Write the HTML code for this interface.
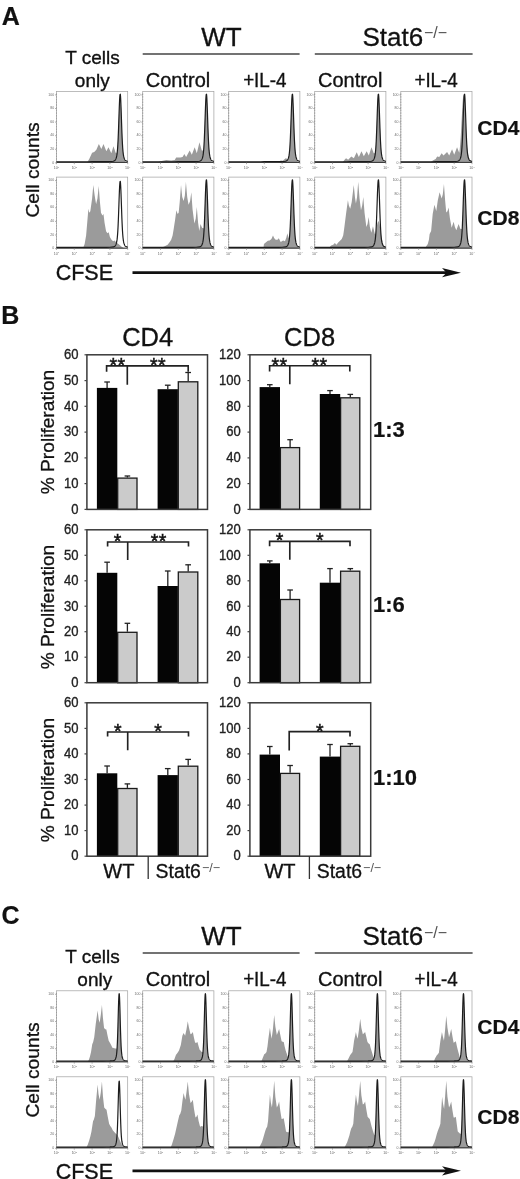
<!DOCTYPE html>
<html><head><meta charset="utf-8"><title>Figure</title>
<style>html,body{margin:0;padding:0;background:#fff}svg{display:block;filter:blur(0.35px)}</style>
</head><body>
<svg width="520" height="1179" viewBox="0 0 520 1179" font-family='"Liberation Sans", Arial, Helvetica, sans-serif'>
<rect width="520" height="1179" fill="#fff"/>
<g>
<path d="M56.50,162.60 L87.12,162.60 L89.25,159.04 L92.10,152.63 L94.24,151.92 L96.37,149.78 L98.86,144.09 L101.36,149.07 L103.49,144.09 L106.34,151.21 L108.48,147.22 L111.32,153.34 L113.46,146.22 L114.81,150.28 L115.03,150.92 L115.24,151.56 L115.45,152.20 L115.60,152.63 L115.67,152.63 L115.88,152.63 L116.09,152.63 L116.31,152.63 L116.52,152.63 L116.74,152.63 L116.95,152.63 L117.16,152.63 L117.38,150.52 L117.59,147.66 L117.73,145.42 L117.80,144.18 L118.02,140.04 L118.23,135.22 L118.44,129.81 L118.66,123.94 L118.87,117.84 L119.08,111.79 L119.16,109.84 L119.30,106.14 L119.51,101.25 L119.73,97.46 L119.94,95.07 L120.15,94.25 L120.37,95.07 L120.58,97.46 L120.79,101.25 L121.01,106.14 L121.22,111.79 L121.43,117.84 L121.65,123.94 L121.86,129.81 L122.08,135.22 L122.29,140.04 L122.50,144.18 L122.72,147.66 L122.93,150.52 L123.14,152.82 L123.36,154.65 L123.57,156.11 L123.78,157.26 L124.00,158.19 L124.21,158.94 L124.42,159.55 L124.64,160.06 L124.85,160.48 L125.07,160.84 L125.28,161.15 L125.49,161.41 L127.70,162.60 Z" fill="#9b9b9b" stroke="none"/>
<rect x="56.5" y="91.4" width="71.2" height="71.2" fill="none" stroke="#a0a0a0" stroke-width="0.7"/>
<line x1="56.5" y1="93.4" x2="56.5" y2="162.60000000000002" stroke="#999" stroke-width="0.9" stroke-dasharray="1.6 1.1"/>
<path d="M56.50,161.75 L60.06,161.74 L63.62,161.74 L67.18,161.74 L70.74,161.74 L74.30,161.74 L77.86,161.74 L81.42,161.74 L84.98,161.73 L88.54,161.73 L92.10,161.72 L95.66,161.71 L99.22,161.68 L102.78,161.65 L106.34,161.60 L109.90,161.53 L113.46,161.23 L114.81,160.46 L114.99,160.27 L115.17,160.06 L115.35,159.82 L115.52,159.53 L115.70,159.21 L115.88,158.83 L116.06,158.39 L116.24,157.88 L116.41,157.27 L116.59,156.54 L116.77,155.66 L116.95,154.59 L117.02,154.10 L117.13,153.28 L117.30,151.68 L117.48,149.73 L117.66,147.37 L117.84,144.56 L118.02,141.25 L118.19,137.44 L118.37,133.15 L118.55,128.42 L118.73,123.37 L118.91,118.14 L119.08,112.93 L119.26,107.94 L119.44,103.42 L119.62,99.60 L119.80,96.70 L119.97,94.88 L120.15,94.25 L120.33,94.22 L120.51,96.09 L120.58,97.15 L120.69,99.04 L120.86,102.91 L121.04,107.47 L121.22,112.50 L121.40,117.76 L121.58,123.02 L121.75,128.11 L121.93,132.86 L122.11,137.19 L122.29,141.03 L122.47,144.36 L122.64,147.20 L122.82,149.58 L123.00,151.55 L123.18,153.17 L123.36,154.50 L123.53,155.59 L123.71,156.48 L123.89,157.23 L124.07,157.85 L124.14,158.07 L124.25,158.38 L124.42,158.83 L124.60,159.22 L124.78,159.56 L124.96,159.85 L125.14,160.11 L125.31,160.33 L125.49,160.52 L127.70,161.51" fill="none" stroke="#1c1c1c" stroke-width="1.2" stroke-linejoin="round"/>
<line x1="56.5" y1="162.4" x2="127.7" y2="162.4" stroke="#222" stroke-width="0.9"/>
<text x="54.2" y="95.5" font-size="3.5" text-anchor="end" fill="#6a6a6a">100</text>
<line x1="55.1" y1="94.9" x2="56.5" y2="94.9" stroke="#888" stroke-width="0.7"/>
<text x="54.2" y="109.1" font-size="3.5" text-anchor="end" fill="#6a6a6a">80</text>
<line x1="55.1" y1="108.5" x2="56.5" y2="108.5" stroke="#888" stroke-width="0.7"/>
<text x="54.2" y="122.7" font-size="3.5" text-anchor="end" fill="#6a6a6a">60</text>
<line x1="55.1" y1="122.1" x2="56.5" y2="122.1" stroke="#888" stroke-width="0.7"/>
<text x="54.2" y="136.3" font-size="3.5" text-anchor="end" fill="#6a6a6a">40</text>
<line x1="55.1" y1="135.7" x2="56.5" y2="135.7" stroke="#888" stroke-width="0.7"/>
<text x="54.2" y="149.9" font-size="3.5" text-anchor="end" fill="#6a6a6a">20</text>
<line x1="55.1" y1="149.3" x2="56.5" y2="149.3" stroke="#888" stroke-width="0.7"/>
<text x="54.2" y="163.5" font-size="3.5" text-anchor="end" fill="#6a6a6a">0</text>
<line x1="55.1" y1="162.9" x2="56.5" y2="162.9" stroke="#888" stroke-width="0.7"/>
<text x="56.5" y="168.9" font-size="3.6" text-anchor="middle" fill="#666">10<tspan dy="-1.3" font-size="2.4">0</tspan></text>
<line x1="56.5" y1="162.6" x2="56.5" y2="164.2" stroke="#8a8a8a" stroke-width="0.7"/>
<text x="74.3" y="168.9" font-size="3.6" text-anchor="middle" fill="#666">10<tspan dy="-1.3" font-size="2.4">1</tspan></text>
<line x1="74.3" y1="162.6" x2="74.3" y2="164.2" stroke="#8a8a8a" stroke-width="0.7"/>
<text x="92.1" y="168.9" font-size="3.6" text-anchor="middle" fill="#666">10<tspan dy="-1.3" font-size="2.4">2</tspan></text>
<line x1="92.1" y1="162.6" x2="92.1" y2="164.2" stroke="#8a8a8a" stroke-width="0.7"/>
<text x="109.9" y="168.9" font-size="3.6" text-anchor="middle" fill="#666">10<tspan dy="-1.3" font-size="2.4">3</tspan></text>
<line x1="109.9" y1="162.6" x2="109.9" y2="164.2" stroke="#8a8a8a" stroke-width="0.7"/>
<text x="127.7" y="168.9" font-size="3.6" text-anchor="middle" fill="#666">10<tspan dy="-1.3" font-size="2.4">4</tspan></text>
<line x1="127.7" y1="162.6" x2="127.7" y2="164.2" stroke="#8a8a8a" stroke-width="0.7"/>
</g>
<g>
<path d="M142.70,162.60 L156.94,162.60 L160.50,161.18 L166.20,160.11 L171.18,160.46 L174.74,160.11 L176.16,157.62 L180.44,157.62 L182.57,156.90 L184.35,154.06 L186.13,156.90 L189.69,150.50 L191.83,154.77 L194.68,147.22 L196.81,153.34 L199.45,142.17 L201.01,147.72 L201.23,148.48 L201.44,149.23 L201.65,149.99 L201.80,150.50 L201.87,150.50 L202.08,150.50 L202.29,150.50 L202.51,150.50 L202.72,150.50 L202.94,150.50 L203.15,150.50 L203.36,150.50 L203.58,150.50 L203.79,147.66 L203.93,145.42 L204.00,144.18 L204.22,140.04 L204.43,135.22 L204.64,129.81 L204.86,123.94 L205.07,117.84 L205.28,111.79 L205.36,109.84 L205.50,106.14 L205.71,101.25 L205.93,97.46 L206.14,95.07 L206.35,94.25 L206.57,95.07 L206.78,97.46 L206.99,101.25 L207.21,106.14 L207.42,111.79 L207.63,117.84 L207.85,123.94 L208.06,129.81 L208.28,135.22 L208.49,140.04 L208.70,144.18 L208.92,147.66 L209.13,150.52 L209.34,152.82 L209.56,154.65 L209.77,156.11 L209.98,157.26 L210.20,158.19 L210.41,158.94 L210.62,159.55 L210.84,160.06 L211.05,160.48 L211.27,160.84 L211.48,161.15 L211.69,161.41 L213.90,162.60 Z" fill="#9b9b9b" stroke="none"/>
<rect x="142.7" y="91.4" width="71.2" height="71.2" fill="none" stroke="#a0a0a0" stroke-width="0.7"/>
<line x1="142.7" y1="93.4" x2="142.7" y2="162.60000000000002" stroke="#999" stroke-width="0.9" stroke-dasharray="1.6 1.1"/>
<path d="M142.70,161.75 L146.26,161.74 L149.82,161.74 L153.38,161.74 L156.94,161.74 L160.50,161.74 L164.06,161.74 L167.62,161.74 L171.18,161.73 L174.74,161.73 L178.30,161.72 L181.86,161.71 L185.42,161.68 L188.98,161.65 L192.54,161.60 L196.10,161.53 L199.66,161.23 L201.01,160.46 L201.19,160.27 L201.37,160.06 L201.55,159.82 L201.72,159.53 L201.90,159.21 L202.08,158.83 L202.26,158.39 L202.44,157.88 L202.61,157.27 L202.79,156.54 L202.97,155.66 L203.15,154.59 L203.22,154.10 L203.33,153.28 L203.50,151.68 L203.68,149.73 L203.86,147.37 L204.04,144.56 L204.22,141.25 L204.39,137.44 L204.57,133.15 L204.75,128.42 L204.93,123.37 L205.11,118.14 L205.28,112.93 L205.46,107.94 L205.64,103.42 L205.82,99.60 L206.00,96.70 L206.17,94.88 L206.35,94.25 L206.53,94.22 L206.71,96.09 L206.78,97.15 L206.89,99.04 L207.06,102.91 L207.24,107.47 L207.42,112.50 L207.60,117.76 L207.78,123.02 L207.95,128.11 L208.13,132.86 L208.31,137.19 L208.49,141.03 L208.67,144.36 L208.84,147.20 L209.02,149.58 L209.20,151.55 L209.38,153.17 L209.56,154.50 L209.73,155.59 L209.91,156.48 L210.09,157.23 L210.27,157.85 L210.34,158.07 L210.45,158.38 L210.62,158.83 L210.80,159.22 L210.98,159.56 L211.16,159.85 L211.34,160.11 L211.51,160.33 L211.69,160.52 L213.90,161.51" fill="none" stroke="#1c1c1c" stroke-width="1.2" stroke-linejoin="round"/>
<line x1="142.7" y1="162.4" x2="213.9" y2="162.4" stroke="#222" stroke-width="0.9"/>
<text x="140.4" y="95.5" font-size="3.5" text-anchor="end" fill="#6a6a6a">100</text>
<line x1="141.3" y1="94.9" x2="142.7" y2="94.9" stroke="#888" stroke-width="0.7"/>
<text x="140.4" y="109.1" font-size="3.5" text-anchor="end" fill="#6a6a6a">80</text>
<line x1="141.3" y1="108.5" x2="142.7" y2="108.5" stroke="#888" stroke-width="0.7"/>
<text x="140.4" y="122.7" font-size="3.5" text-anchor="end" fill="#6a6a6a">60</text>
<line x1="141.3" y1="122.1" x2="142.7" y2="122.1" stroke="#888" stroke-width="0.7"/>
<text x="140.4" y="136.3" font-size="3.5" text-anchor="end" fill="#6a6a6a">40</text>
<line x1="141.3" y1="135.7" x2="142.7" y2="135.7" stroke="#888" stroke-width="0.7"/>
<text x="140.4" y="149.9" font-size="3.5" text-anchor="end" fill="#6a6a6a">20</text>
<line x1="141.3" y1="149.3" x2="142.7" y2="149.3" stroke="#888" stroke-width="0.7"/>
<text x="140.4" y="163.5" font-size="3.5" text-anchor="end" fill="#6a6a6a">0</text>
<line x1="141.3" y1="162.9" x2="142.7" y2="162.9" stroke="#888" stroke-width="0.7"/>
<text x="142.7" y="168.9" font-size="3.6" text-anchor="middle" fill="#666">10<tspan dy="-1.3" font-size="2.4">0</tspan></text>
<line x1="142.7" y1="162.6" x2="142.7" y2="164.2" stroke="#8a8a8a" stroke-width="0.7"/>
<text x="160.5" y="168.9" font-size="3.6" text-anchor="middle" fill="#666">10<tspan dy="-1.3" font-size="2.4">1</tspan></text>
<line x1="160.5" y1="162.6" x2="160.5" y2="164.2" stroke="#8a8a8a" stroke-width="0.7"/>
<text x="178.3" y="168.9" font-size="3.6" text-anchor="middle" fill="#666">10<tspan dy="-1.3" font-size="2.4">2</tspan></text>
<line x1="178.3" y1="162.6" x2="178.3" y2="164.2" stroke="#8a8a8a" stroke-width="0.7"/>
<text x="196.1" y="168.9" font-size="3.6" text-anchor="middle" fill="#666">10<tspan dy="-1.3" font-size="2.4">3</tspan></text>
<line x1="196.1" y1="162.6" x2="196.1" y2="164.2" stroke="#8a8a8a" stroke-width="0.7"/>
<text x="213.9" y="168.9" font-size="3.6" text-anchor="middle" fill="#666">10<tspan dy="-1.3" font-size="2.4">4</tspan></text>
<line x1="213.9" y1="162.6" x2="213.9" y2="164.2" stroke="#8a8a8a" stroke-width="0.7"/>
</g>
<g>
<path d="M228.70,162.60 L278.54,162.60 L280.68,160.46 L282.81,160.82 L285.66,158.33 L287.01,158.78 L287.23,158.85 L287.44,158.92 L287.65,158.99 L287.80,159.04 L287.87,158.97 L288.08,158.76 L288.29,158.54 L288.51,158.19 L288.72,157.26 L288.94,156.11 L289.15,154.65 L289.36,152.82 L289.58,150.52 L289.79,147.66 L289.93,145.42 L290.00,144.18 L290.22,140.04 L290.43,135.22 L290.64,129.81 L290.86,123.94 L291.07,117.84 L291.28,111.79 L291.36,109.84 L291.50,106.14 L291.71,101.25 L291.93,97.46 L292.14,95.07 L292.35,94.25 L292.57,95.07 L292.78,97.46 L292.99,101.25 L293.21,106.14 L293.42,111.79 L293.63,117.84 L293.85,123.94 L294.06,129.81 L294.28,135.22 L294.49,140.04 L294.70,144.18 L294.92,147.66 L295.13,150.52 L295.34,152.82 L295.56,154.65 L295.77,156.11 L295.98,157.26 L296.20,158.19 L296.41,158.94 L296.62,159.55 L296.84,160.06 L297.05,160.48 L297.27,160.84 L297.48,161.15 L297.69,161.41 L299.90,162.60 Z" fill="#9b9b9b" stroke="none"/>
<rect x="228.7" y="91.4" width="71.2" height="71.2" fill="none" stroke="#a0a0a0" stroke-width="0.7"/>
<line x1="228.7" y1="93.4" x2="228.7" y2="162.60000000000002" stroke="#999" stroke-width="0.9" stroke-dasharray="1.6 1.1"/>
<path d="M228.70,161.75 L232.26,161.74 L235.82,161.74 L239.38,161.74 L242.94,161.74 L246.50,161.74 L250.06,161.74 L253.62,161.74 L257.18,161.73 L260.74,161.73 L264.30,161.72 L267.86,161.71 L271.42,161.68 L274.98,161.65 L278.54,161.60 L282.10,161.53 L285.66,161.23 L287.01,160.46 L287.19,160.27 L287.37,160.06 L287.55,159.82 L287.72,159.53 L287.90,159.21 L288.08,158.83 L288.26,158.39 L288.44,157.88 L288.61,157.27 L288.79,156.54 L288.97,155.66 L289.15,154.59 L289.22,154.10 L289.33,153.28 L289.50,151.68 L289.68,149.73 L289.86,147.37 L290.04,144.56 L290.22,141.25 L290.39,137.44 L290.57,133.15 L290.75,128.42 L290.93,123.37 L291.11,118.14 L291.28,112.93 L291.46,107.94 L291.64,103.42 L291.82,99.60 L292.00,96.70 L292.17,94.88 L292.35,94.25 L292.53,94.22 L292.71,96.09 L292.78,97.15 L292.89,99.04 L293.06,102.91 L293.24,107.47 L293.42,112.50 L293.60,117.76 L293.78,123.02 L293.95,128.11 L294.13,132.86 L294.31,137.19 L294.49,141.03 L294.67,144.36 L294.84,147.20 L295.02,149.58 L295.20,151.55 L295.38,153.17 L295.56,154.50 L295.73,155.59 L295.91,156.48 L296.09,157.23 L296.27,157.85 L296.34,158.07 L296.45,158.38 L296.62,158.83 L296.80,159.22 L296.98,159.56 L297.16,159.85 L297.34,160.11 L297.51,160.33 L297.69,160.52 L299.90,161.51" fill="none" stroke="#1c1c1c" stroke-width="1.2" stroke-linejoin="round"/>
<line x1="228.7" y1="162.4" x2="299.9" y2="162.4" stroke="#222" stroke-width="0.9"/>
<text x="226.4" y="95.5" font-size="3.5" text-anchor="end" fill="#6a6a6a">100</text>
<line x1="227.3" y1="94.9" x2="228.7" y2="94.9" stroke="#888" stroke-width="0.7"/>
<text x="226.4" y="109.1" font-size="3.5" text-anchor="end" fill="#6a6a6a">80</text>
<line x1="227.3" y1="108.5" x2="228.7" y2="108.5" stroke="#888" stroke-width="0.7"/>
<text x="226.4" y="122.7" font-size="3.5" text-anchor="end" fill="#6a6a6a">60</text>
<line x1="227.3" y1="122.1" x2="228.7" y2="122.1" stroke="#888" stroke-width="0.7"/>
<text x="226.4" y="136.3" font-size="3.5" text-anchor="end" fill="#6a6a6a">40</text>
<line x1="227.3" y1="135.7" x2="228.7" y2="135.7" stroke="#888" stroke-width="0.7"/>
<text x="226.4" y="149.9" font-size="3.5" text-anchor="end" fill="#6a6a6a">20</text>
<line x1="227.3" y1="149.3" x2="228.7" y2="149.3" stroke="#888" stroke-width="0.7"/>
<text x="226.4" y="163.5" font-size="3.5" text-anchor="end" fill="#6a6a6a">0</text>
<line x1="227.3" y1="162.9" x2="228.7" y2="162.9" stroke="#888" stroke-width="0.7"/>
<text x="228.7" y="168.9" font-size="3.6" text-anchor="middle" fill="#666">10<tspan dy="-1.3" font-size="2.4">0</tspan></text>
<line x1="228.7" y1="162.6" x2="228.7" y2="164.2" stroke="#8a8a8a" stroke-width="0.7"/>
<text x="246.5" y="168.9" font-size="3.6" text-anchor="middle" fill="#666">10<tspan dy="-1.3" font-size="2.4">1</tspan></text>
<line x1="246.5" y1="162.6" x2="246.5" y2="164.2" stroke="#8a8a8a" stroke-width="0.7"/>
<text x="264.3" y="168.9" font-size="3.6" text-anchor="middle" fill="#666">10<tspan dy="-1.3" font-size="2.4">2</tspan></text>
<line x1="264.3" y1="162.6" x2="264.3" y2="164.2" stroke="#8a8a8a" stroke-width="0.7"/>
<text x="282.1" y="168.9" font-size="3.6" text-anchor="middle" fill="#666">10<tspan dy="-1.3" font-size="2.4">3</tspan></text>
<line x1="282.1" y1="162.6" x2="282.1" y2="164.2" stroke="#8a8a8a" stroke-width="0.7"/>
<text x="299.9" y="168.9" font-size="3.6" text-anchor="middle" fill="#666">10<tspan dy="-1.3" font-size="2.4">4</tspan></text>
<line x1="299.9" y1="162.6" x2="299.9" y2="164.2" stroke="#8a8a8a" stroke-width="0.7"/>
</g>
<g>
<path d="M314.70,162.60 L342.47,162.60 L344.60,159.75 L346.03,158.33 L348.16,159.75 L351.30,156.48 L353.86,158.33 L356.71,152.28 L358.84,156.90 L361.48,151.35 L363.83,156.19 L366.68,151.21 L368.81,155.48 L371.45,147.22 L373.01,151.30 L373.23,151.86 L373.44,152.42 L373.65,152.97 L373.80,153.34 L373.87,153.32 L374.08,153.25 L374.29,153.18 L374.51,153.11 L374.72,153.04 L374.94,152.96 L375.15,152.89 L375.36,152.82 L375.58,150.52 L375.79,147.66 L375.93,145.42 L376.00,144.18 L376.22,140.04 L376.43,135.22 L376.64,129.81 L376.86,123.94 L377.07,117.84 L377.28,111.79 L377.36,109.84 L377.50,106.14 L377.71,101.25 L377.93,97.46 L378.14,95.07 L378.35,94.25 L378.57,95.07 L378.78,97.46 L378.99,101.25 L379.21,106.14 L379.42,111.79 L379.63,117.84 L379.85,123.94 L380.06,129.81 L380.28,135.22 L380.49,140.04 L380.70,144.18 L380.92,147.66 L381.13,150.52 L381.34,152.82 L381.56,154.65 L381.77,156.11 L381.98,157.26 L382.20,158.19 L382.41,158.94 L382.62,159.55 L382.84,160.06 L383.05,160.48 L383.27,160.84 L383.48,161.15 L383.69,161.41 L385.90,162.60 Z" fill="#9b9b9b" stroke="none"/>
<rect x="314.7" y="91.4" width="71.2" height="71.2" fill="none" stroke="#a0a0a0" stroke-width="0.7"/>
<line x1="314.7" y1="93.4" x2="314.7" y2="162.60000000000002" stroke="#999" stroke-width="0.9" stroke-dasharray="1.6 1.1"/>
<path d="M314.70,161.75 L318.26,161.74 L321.82,161.74 L325.38,161.74 L328.94,161.74 L332.50,161.74 L336.06,161.74 L339.62,161.74 L343.18,161.73 L346.74,161.73 L350.30,161.72 L353.86,161.71 L357.42,161.68 L360.98,161.65 L364.54,161.60 L368.10,161.53 L371.66,161.23 L373.01,160.46 L373.19,160.27 L373.37,160.06 L373.55,159.82 L373.72,159.53 L373.90,159.21 L374.08,158.83 L374.26,158.39 L374.44,157.88 L374.61,157.27 L374.79,156.54 L374.97,155.66 L375.15,154.59 L375.22,154.10 L375.33,153.28 L375.50,151.68 L375.68,149.73 L375.86,147.37 L376.04,144.56 L376.22,141.25 L376.39,137.44 L376.57,133.15 L376.75,128.42 L376.93,123.37 L377.11,118.14 L377.28,112.93 L377.46,107.94 L377.64,103.42 L377.82,99.60 L378.00,96.70 L378.17,94.88 L378.35,94.25 L378.53,94.22 L378.71,96.09 L378.78,97.15 L378.89,99.04 L379.06,102.91 L379.24,107.47 L379.42,112.50 L379.60,117.76 L379.78,123.02 L379.95,128.11 L380.13,132.86 L380.31,137.19 L380.49,141.03 L380.67,144.36 L380.84,147.20 L381.02,149.58 L381.20,151.55 L381.38,153.17 L381.56,154.50 L381.73,155.59 L381.91,156.48 L382.09,157.23 L382.27,157.85 L382.34,158.07 L382.45,158.38 L382.62,158.83 L382.80,159.22 L382.98,159.56 L383.16,159.85 L383.34,160.11 L383.51,160.33 L383.69,160.52 L385.90,161.51" fill="none" stroke="#1c1c1c" stroke-width="1.2" stroke-linejoin="round"/>
<line x1="314.7" y1="162.4" x2="385.9" y2="162.4" stroke="#222" stroke-width="0.9"/>
<text x="312.4" y="95.5" font-size="3.5" text-anchor="end" fill="#6a6a6a">100</text>
<line x1="313.3" y1="94.9" x2="314.7" y2="94.9" stroke="#888" stroke-width="0.7"/>
<text x="312.4" y="109.1" font-size="3.5" text-anchor="end" fill="#6a6a6a">80</text>
<line x1="313.3" y1="108.5" x2="314.7" y2="108.5" stroke="#888" stroke-width="0.7"/>
<text x="312.4" y="122.7" font-size="3.5" text-anchor="end" fill="#6a6a6a">60</text>
<line x1="313.3" y1="122.1" x2="314.7" y2="122.1" stroke="#888" stroke-width="0.7"/>
<text x="312.4" y="136.3" font-size="3.5" text-anchor="end" fill="#6a6a6a">40</text>
<line x1="313.3" y1="135.7" x2="314.7" y2="135.7" stroke="#888" stroke-width="0.7"/>
<text x="312.4" y="149.9" font-size="3.5" text-anchor="end" fill="#6a6a6a">20</text>
<line x1="313.3" y1="149.3" x2="314.7" y2="149.3" stroke="#888" stroke-width="0.7"/>
<text x="312.4" y="163.5" font-size="3.5" text-anchor="end" fill="#6a6a6a">0</text>
<line x1="313.3" y1="162.9" x2="314.7" y2="162.9" stroke="#888" stroke-width="0.7"/>
<text x="314.7" y="168.9" font-size="3.6" text-anchor="middle" fill="#666">10<tspan dy="-1.3" font-size="2.4">0</tspan></text>
<line x1="314.7" y1="162.6" x2="314.7" y2="164.2" stroke="#8a8a8a" stroke-width="0.7"/>
<text x="332.5" y="168.9" font-size="3.6" text-anchor="middle" fill="#666">10<tspan dy="-1.3" font-size="2.4">1</tspan></text>
<line x1="332.5" y1="162.6" x2="332.5" y2="164.2" stroke="#8a8a8a" stroke-width="0.7"/>
<text x="350.3" y="168.9" font-size="3.6" text-anchor="middle" fill="#666">10<tspan dy="-1.3" font-size="2.4">2</tspan></text>
<line x1="350.3" y1="162.6" x2="350.3" y2="164.2" stroke="#8a8a8a" stroke-width="0.7"/>
<text x="368.1" y="168.9" font-size="3.6" text-anchor="middle" fill="#666">10<tspan dy="-1.3" font-size="2.4">3</tspan></text>
<line x1="368.1" y1="162.6" x2="368.1" y2="164.2" stroke="#8a8a8a" stroke-width="0.7"/>
<text x="385.9" y="168.9" font-size="3.6" text-anchor="middle" fill="#666">10<tspan dy="-1.3" font-size="2.4">4</tspan></text>
<line x1="385.9" y1="162.6" x2="385.9" y2="164.2" stroke="#8a8a8a" stroke-width="0.7"/>
</g>
<g>
<path d="M400.80,162.60 L429.99,162.60 L432.84,160.46 L435.69,159.04 L437.11,156.48 L439.25,156.90 L441.67,153.34 L443.52,155.48 L447.08,151.92 L449.22,155.48 L452.06,149.21 L454.20,154.77 L457.05,147.22 L459.11,152.45 L459.18,152.63 L459.33,152.36 L459.54,150.75 L459.75,148.90 L459.97,146.76 L460.18,144.32 L460.39,141.57 L460.61,138.50 L460.82,135.13 L461.04,131.48 L461.25,127.60 L461.32,126.26 L461.46,123.54 L461.68,119.39 L461.89,115.24 L462.10,111.19 L462.32,107.36 L462.53,103.87 L462.74,100.82 L462.96,98.33 L463.17,96.48 L463.38,95.34 L463.60,94.96 L463.81,95.34 L464.03,96.48 L464.24,98.33 L464.45,100.82 L464.67,103.87 L464.88,107.36 L465.09,111.19 L465.31,115.24 L465.52,119.39 L465.73,123.54 L465.95,127.60 L466.16,131.48 L466.38,135.13 L466.59,138.50 L466.80,141.57 L467.02,144.32 L467.23,146.76 L467.44,148.90 L467.66,150.75 L467.87,152.36 L468.08,153.73 L468.30,154.90 L468.51,155.90 L468.72,156.75 L468.94,157.48 L469.15,158.11 L469.37,158.65 L469.58,159.12 L469.79,159.53 L472.00,162.60 Z" fill="#9b9b9b" stroke="none"/>
<rect x="400.8" y="91.4" width="71.2" height="71.2" fill="none" stroke="#a0a0a0" stroke-width="0.7"/>
<line x1="400.8" y1="93.4" x2="400.8" y2="162.60000000000002" stroke="#999" stroke-width="0.9" stroke-dasharray="1.6 1.1"/>
<path d="M400.80,161.75 L404.36,161.74 L407.92,161.74 L411.48,161.74 L415.04,161.74 L418.60,161.74 L422.16,161.74 L425.72,161.74 L429.28,161.73 L432.84,161.73 L436.40,161.72 L439.96,161.71 L443.52,161.68 L447.08,161.65 L450.64,161.60 L454.20,161.53 L457.76,161.23 L459.11,160.46 L459.29,160.27 L459.47,160.06 L459.65,159.82 L459.82,159.53 L460.00,159.21 L460.18,158.83 L460.36,158.39 L460.54,157.88 L460.71,157.27 L460.89,156.54 L461.07,155.66 L461.25,154.59 L461.32,154.10 L461.43,153.28 L461.60,151.68 L461.78,149.73 L461.96,147.37 L462.14,144.56 L462.32,141.25 L462.49,137.44 L462.67,133.15 L462.85,128.42 L463.03,123.37 L463.21,118.14 L463.38,112.93 L463.56,107.94 L463.74,103.42 L463.92,99.60 L464.10,96.70 L464.27,94.88 L464.45,94.25 L464.63,94.22 L464.81,96.09 L464.88,97.15 L464.99,99.04 L465.16,102.91 L465.34,107.47 L465.52,112.50 L465.70,117.76 L465.88,123.02 L466.05,128.11 L466.23,132.86 L466.41,137.19 L466.59,141.03 L466.77,144.36 L466.94,147.20 L467.12,149.58 L467.30,151.55 L467.48,153.17 L467.66,154.50 L467.83,155.59 L468.01,156.48 L468.19,157.23 L468.37,157.85 L468.44,158.07 L468.55,158.38 L468.72,158.83 L468.90,159.22 L469.08,159.56 L469.26,159.85 L469.44,160.11 L469.61,160.33 L469.79,160.52 L472.00,161.51" fill="none" stroke="#1c1c1c" stroke-width="1.2" stroke-linejoin="round"/>
<line x1="400.8" y1="162.4" x2="472.0" y2="162.4" stroke="#222" stroke-width="0.9"/>
<text x="398.5" y="95.5" font-size="3.5" text-anchor="end" fill="#6a6a6a">100</text>
<line x1="399.4" y1="94.9" x2="400.8" y2="94.9" stroke="#888" stroke-width="0.7"/>
<text x="398.5" y="109.1" font-size="3.5" text-anchor="end" fill="#6a6a6a">80</text>
<line x1="399.4" y1="108.5" x2="400.8" y2="108.5" stroke="#888" stroke-width="0.7"/>
<text x="398.5" y="122.7" font-size="3.5" text-anchor="end" fill="#6a6a6a">60</text>
<line x1="399.4" y1="122.1" x2="400.8" y2="122.1" stroke="#888" stroke-width="0.7"/>
<text x="398.5" y="136.3" font-size="3.5" text-anchor="end" fill="#6a6a6a">40</text>
<line x1="399.4" y1="135.7" x2="400.8" y2="135.7" stroke="#888" stroke-width="0.7"/>
<text x="398.5" y="149.9" font-size="3.5" text-anchor="end" fill="#6a6a6a">20</text>
<line x1="399.4" y1="149.3" x2="400.8" y2="149.3" stroke="#888" stroke-width="0.7"/>
<text x="398.5" y="163.5" font-size="3.5" text-anchor="end" fill="#6a6a6a">0</text>
<line x1="399.4" y1="162.9" x2="400.8" y2="162.9" stroke="#888" stroke-width="0.7"/>
<text x="400.8" y="168.9" font-size="3.6" text-anchor="middle" fill="#666">10<tspan dy="-1.3" font-size="2.4">0</tspan></text>
<line x1="400.8" y1="162.6" x2="400.8" y2="164.2" stroke="#8a8a8a" stroke-width="0.7"/>
<text x="418.6" y="168.9" font-size="3.6" text-anchor="middle" fill="#666">10<tspan dy="-1.3" font-size="2.4">1</tspan></text>
<line x1="418.6" y1="162.6" x2="418.6" y2="164.2" stroke="#8a8a8a" stroke-width="0.7"/>
<text x="436.4" y="168.9" font-size="3.6" text-anchor="middle" fill="#666">10<tspan dy="-1.3" font-size="2.4">2</tspan></text>
<line x1="436.4" y1="162.6" x2="436.4" y2="164.2" stroke="#8a8a8a" stroke-width="0.7"/>
<text x="454.2" y="168.9" font-size="3.6" text-anchor="middle" fill="#666">10<tspan dy="-1.3" font-size="2.4">3</tspan></text>
<line x1="454.2" y1="162.6" x2="454.2" y2="164.2" stroke="#8a8a8a" stroke-width="0.7"/>
<text x="472.0" y="168.9" font-size="3.6" text-anchor="middle" fill="#666">10<tspan dy="-1.3" font-size="2.4">4</tspan></text>
<line x1="472.0" y1="162.6" x2="472.0" y2="164.2" stroke="#8a8a8a" stroke-width="0.7"/>
</g>
<g>
<path d="M56.50,248.30 L83.06,248.30 L84.62,244.03 L86.12,235.48 L87.47,219.82 L88.40,208.64 L89.25,212.70 L90.32,211.28 L92.10,198.46 L93.31,184.93 L94.59,194.90 L96.09,204.16 L97.44,198.46 L98.72,186.00 L99.93,202.02 L101.00,212.70 L102.42,215.55 L103.49,214.12 L104.56,222.67 L106.06,231.21 L107.41,233.35 L108.69,232.14 L109.90,236.91 L111.32,239.40 L113.10,241.18 L114.53,240.47 L116.31,242.60 L118.44,244.03 L122.00,246.88 L124.14,248.30 L127.70,248.30 Z" fill="#9b9b9b" stroke="none"/>
<rect x="56.5" y="177.1" width="71.2" height="71.2" fill="none" stroke="#a0a0a0" stroke-width="0.7"/>
<line x1="56.5" y1="179.1" x2="56.5" y2="248.3" stroke="#999" stroke-width="0.9" stroke-dasharray="1.6 1.1"/>
<path d="M56.50,247.45 L60.06,247.44 L63.62,247.44 L67.18,247.44 L70.74,247.44 L74.30,247.44 L77.86,247.44 L81.42,247.44 L84.98,247.43 L88.54,247.43 L92.10,247.42 L95.66,247.41 L99.22,247.38 L102.78,247.35 L106.34,247.30 L109.90,247.23 L113.46,246.93 L114.81,246.18 L114.99,246.00 L115.17,245.79 L115.35,245.55 L115.52,245.27 L115.70,244.95 L115.88,244.58 L116.06,244.15 L116.24,243.65 L116.41,243.05 L116.59,242.34 L116.77,241.48 L116.95,240.43 L117.02,239.95 L117.13,239.15 L117.30,237.58 L117.48,235.67 L117.66,233.37 L117.84,230.61 L118.02,227.38 L118.19,223.65 L118.37,219.44 L118.55,214.82 L118.73,209.88 L118.91,204.76 L119.08,199.65 L119.26,194.77 L119.44,190.35 L119.62,186.61 L119.80,183.77 L119.97,181.99 L120.15,181.37 L120.33,181.33 L120.51,183.16 L120.58,184.20 L120.69,186.05 L120.86,189.84 L121.04,194.30 L121.22,199.23 L121.40,204.37 L121.58,209.53 L121.75,214.50 L121.93,219.16 L122.11,223.39 L122.29,227.15 L122.47,230.41 L122.64,233.19 L122.82,235.52 L123.00,237.45 L123.18,239.04 L123.36,240.34 L123.53,241.41 L123.71,242.29 L123.89,243.01 L124.07,243.63 L124.14,243.84 L124.25,244.14 L124.42,244.59 L124.60,244.97 L124.78,245.30 L124.96,245.58 L125.14,245.83 L125.31,246.05 L125.49,246.24 L127.70,247.21" fill="none" stroke="#1c1c1c" stroke-width="1.2" stroke-linejoin="round"/>
<line x1="56.5" y1="248.1" x2="127.7" y2="248.1" stroke="#222" stroke-width="0.9"/>
<text x="54.2" y="181.2" font-size="3.5" text-anchor="end" fill="#6a6a6a">100</text>
<line x1="55.1" y1="180.6" x2="56.5" y2="180.6" stroke="#888" stroke-width="0.7"/>
<text x="54.2" y="194.8" font-size="3.5" text-anchor="end" fill="#6a6a6a">80</text>
<line x1="55.1" y1="194.2" x2="56.5" y2="194.2" stroke="#888" stroke-width="0.7"/>
<text x="54.2" y="208.4" font-size="3.5" text-anchor="end" fill="#6a6a6a">60</text>
<line x1="55.1" y1="207.8" x2="56.5" y2="207.8" stroke="#888" stroke-width="0.7"/>
<text x="54.2" y="222.0" font-size="3.5" text-anchor="end" fill="#6a6a6a">40</text>
<line x1="55.1" y1="221.4" x2="56.5" y2="221.4" stroke="#888" stroke-width="0.7"/>
<text x="54.2" y="235.6" font-size="3.5" text-anchor="end" fill="#6a6a6a">20</text>
<line x1="55.1" y1="235.0" x2="56.5" y2="235.0" stroke="#888" stroke-width="0.7"/>
<text x="54.2" y="249.2" font-size="3.5" text-anchor="end" fill="#6a6a6a">0</text>
<line x1="55.1" y1="248.6" x2="56.5" y2="248.6" stroke="#888" stroke-width="0.7"/>
<text x="56.5" y="254.6" font-size="3.6" text-anchor="middle" fill="#666">10<tspan dy="-1.3" font-size="2.4">0</tspan></text>
<line x1="56.5" y1="248.3" x2="56.5" y2="249.9" stroke="#8a8a8a" stroke-width="0.7"/>
<text x="74.3" y="254.6" font-size="3.6" text-anchor="middle" fill="#666">10<tspan dy="-1.3" font-size="2.4">1</tspan></text>
<line x1="74.3" y1="248.3" x2="74.3" y2="249.9" stroke="#8a8a8a" stroke-width="0.7"/>
<text x="92.1" y="254.6" font-size="3.6" text-anchor="middle" fill="#666">10<tspan dy="-1.3" font-size="2.4">2</tspan></text>
<line x1="92.1" y1="248.3" x2="92.1" y2="249.9" stroke="#8a8a8a" stroke-width="0.7"/>
<text x="109.9" y="254.6" font-size="3.6" text-anchor="middle" fill="#666">10<tspan dy="-1.3" font-size="2.4">3</tspan></text>
<line x1="109.9" y1="248.3" x2="109.9" y2="249.9" stroke="#8a8a8a" stroke-width="0.7"/>
<text x="127.7" y="254.6" font-size="3.6" text-anchor="middle" fill="#666">10<tspan dy="-1.3" font-size="2.4">4</tspan></text>
<line x1="127.7" y1="248.3" x2="127.7" y2="249.9" stroke="#8a8a8a" stroke-width="0.7"/>
</g>
<g>
<path d="M142.70,248.30 L158.36,248.30 L161.92,247.59 L164.77,246.16 L167.62,244.74 L169.76,241.89 L171.18,239.76 L172.60,235.48 L173.60,229.43 L175.10,219.82 L176.38,210.21 L177.59,214.12 L178.66,212.70 L179.72,202.02 L181.01,185.07 L182.22,197.04 L183.64,200.95 L184.85,195.61 L185.92,182.08 L187.20,197.04 L188.55,204.87 L190.05,201.31 L191.33,192.19 L192.54,209.14 L194.39,223.38 L195.74,218.40 L196.81,207.00 L198.09,222.67 L199.30,230.93 L200.51,224.09 L201.01,225.29 L201.23,225.81 L201.44,226.32 L201.65,226.84 L201.87,227.35 L202.08,227.87 L202.29,227.92 L202.51,227.98 L202.72,228.04 L202.94,228.10 L203.15,228.15 L203.36,228.21 L203.58,228.27 L203.79,228.33 L203.93,228.36 L204.00,229.36 L204.22,225.74 L204.43,220.92 L204.64,215.51 L204.86,209.64 L205.07,203.54 L205.28,197.49 L205.36,195.54 L205.50,191.84 L205.71,186.95 L205.93,183.16 L206.14,180.77 L206.35,179.95 L206.57,180.77 L206.78,183.16 L206.99,186.95 L207.21,191.84 L207.42,197.49 L207.63,203.54 L207.85,209.64 L208.06,215.51 L208.28,220.92 L208.49,225.74 L208.70,229.88 L208.92,233.36 L209.13,236.22 L209.34,238.52 L209.56,240.35 L209.77,241.81 L209.98,242.96 L210.20,243.89 L210.41,244.64 L210.62,245.25 L210.84,245.76 L211.05,246.18 L211.27,246.54 L211.48,246.85 L211.69,247.11 L213.90,248.30 Z" fill="#9b9b9b" stroke="none"/>
<rect x="142.7" y="177.1" width="71.2" height="71.2" fill="none" stroke="#a0a0a0" stroke-width="0.7"/>
<line x1="142.7" y1="179.1" x2="142.7" y2="248.3" stroke="#999" stroke-width="0.9" stroke-dasharray="1.6 1.1"/>
<path d="M142.70,247.45 L146.26,247.44 L149.82,247.44 L153.38,247.44 L156.94,247.44 L160.50,247.44 L164.06,247.44 L167.62,247.44 L171.18,247.43 L174.74,247.43 L178.30,247.42 L181.86,247.41 L185.42,247.38 L188.98,247.35 L192.54,247.30 L196.10,247.23 L199.66,246.93 L201.01,246.16 L201.19,245.97 L201.37,245.76 L201.55,245.52 L201.72,245.23 L201.90,244.91 L202.08,244.53 L202.26,244.09 L202.44,243.58 L202.61,242.97 L202.79,242.24 L202.97,241.36 L203.15,240.29 L203.22,239.80 L203.33,238.98 L203.50,237.38 L203.68,235.43 L203.86,233.07 L204.04,230.26 L204.22,226.95 L204.39,223.14 L204.57,218.85 L204.75,214.12 L204.93,209.07 L205.11,203.84 L205.28,198.63 L205.46,193.64 L205.64,189.12 L205.82,185.30 L206.00,182.40 L206.17,180.58 L206.35,179.95 L206.53,179.92 L206.71,181.79 L206.78,182.85 L206.89,184.74 L207.06,188.61 L207.24,193.17 L207.42,198.20 L207.60,203.46 L207.78,208.72 L207.95,213.81 L208.13,218.56 L208.31,222.89 L208.49,226.73 L208.67,230.06 L208.84,232.90 L209.02,235.28 L209.20,237.25 L209.38,238.87 L209.56,240.20 L209.73,241.29 L209.91,242.18 L210.09,242.93 L210.27,243.55 L210.34,243.77 L210.45,244.08 L210.62,244.53 L210.80,244.92 L210.98,245.26 L211.16,245.55 L211.34,245.81 L211.51,246.03 L211.69,246.22 L213.90,247.21" fill="none" stroke="#1c1c1c" stroke-width="1.2" stroke-linejoin="round"/>
<line x1="142.7" y1="248.1" x2="213.9" y2="248.1" stroke="#222" stroke-width="0.9"/>
<text x="140.4" y="181.2" font-size="3.5" text-anchor="end" fill="#6a6a6a">100</text>
<line x1="141.3" y1="180.6" x2="142.7" y2="180.6" stroke="#888" stroke-width="0.7"/>
<text x="140.4" y="194.8" font-size="3.5" text-anchor="end" fill="#6a6a6a">80</text>
<line x1="141.3" y1="194.2" x2="142.7" y2="194.2" stroke="#888" stroke-width="0.7"/>
<text x="140.4" y="208.4" font-size="3.5" text-anchor="end" fill="#6a6a6a">60</text>
<line x1="141.3" y1="207.8" x2="142.7" y2="207.8" stroke="#888" stroke-width="0.7"/>
<text x="140.4" y="222.0" font-size="3.5" text-anchor="end" fill="#6a6a6a">40</text>
<line x1="141.3" y1="221.4" x2="142.7" y2="221.4" stroke="#888" stroke-width="0.7"/>
<text x="140.4" y="235.6" font-size="3.5" text-anchor="end" fill="#6a6a6a">20</text>
<line x1="141.3" y1="235.0" x2="142.7" y2="235.0" stroke="#888" stroke-width="0.7"/>
<text x="140.4" y="249.2" font-size="3.5" text-anchor="end" fill="#6a6a6a">0</text>
<line x1="141.3" y1="248.6" x2="142.7" y2="248.6" stroke="#888" stroke-width="0.7"/>
<text x="142.7" y="254.6" font-size="3.6" text-anchor="middle" fill="#666">10<tspan dy="-1.3" font-size="2.4">0</tspan></text>
<line x1="142.7" y1="248.3" x2="142.7" y2="249.9" stroke="#8a8a8a" stroke-width="0.7"/>
<text x="160.5" y="254.6" font-size="3.6" text-anchor="middle" fill="#666">10<tspan dy="-1.3" font-size="2.4">1</tspan></text>
<line x1="160.5" y1="248.3" x2="160.5" y2="249.9" stroke="#8a8a8a" stroke-width="0.7"/>
<text x="178.3" y="254.6" font-size="3.6" text-anchor="middle" fill="#666">10<tspan dy="-1.3" font-size="2.4">2</tspan></text>
<line x1="178.3" y1="248.3" x2="178.3" y2="249.9" stroke="#8a8a8a" stroke-width="0.7"/>
<text x="196.1" y="254.6" font-size="3.6" text-anchor="middle" fill="#666">10<tspan dy="-1.3" font-size="2.4">3</tspan></text>
<line x1="196.1" y1="248.3" x2="196.1" y2="249.9" stroke="#8a8a8a" stroke-width="0.7"/>
<text x="213.9" y="254.6" font-size="3.6" text-anchor="middle" fill="#666">10<tspan dy="-1.3" font-size="2.4">4</tspan></text>
<line x1="213.9" y1="248.3" x2="213.9" y2="249.9" stroke="#8a8a8a" stroke-width="0.7"/>
</g>
<g>
<path d="M228.70,248.30 L263.45,248.30 L263.94,244.03 L265.72,242.60 L267.86,240.82 L269.64,240.47 L271.42,239.04 L272.99,235.48 L274.27,238.33 L275.69,239.76 L277.47,239.76 L278.82,238.33 L280.68,241.89 L283.17,240.47 L284.95,241.18 L286.37,237.62 L287.01,234.66 L287.23,233.68 L287.30,233.35 L287.44,233.80 L287.65,234.48 L287.87,235.16 L288.08,235.84 L288.29,236.52 L288.51,237.20 L288.72,237.88 L288.86,238.33 L288.94,238.33 L289.15,238.33 L289.36,238.33 L289.58,236.22 L289.79,233.36 L289.93,231.12 L290.00,229.88 L290.22,225.74 L290.43,220.92 L290.64,215.51 L290.86,209.64 L291.07,203.54 L291.28,197.49 L291.36,195.54 L291.50,191.84 L291.71,186.95 L291.93,183.16 L292.14,180.77 L292.35,179.95 L292.57,180.77 L292.78,183.16 L292.99,186.95 L293.21,191.84 L293.42,197.49 L293.63,203.54 L293.85,209.64 L294.06,215.51 L294.28,220.92 L294.49,225.74 L294.70,229.88 L294.92,233.36 L295.13,236.22 L295.34,238.52 L295.56,240.35 L295.77,241.81 L295.98,242.96 L296.20,243.89 L296.41,244.64 L296.62,245.25 L296.84,245.76 L297.05,246.18 L297.27,246.54 L297.48,246.85 L297.69,247.11 L299.90,248.30 Z" fill="#9b9b9b" stroke="none"/>
<rect x="228.7" y="177.1" width="71.2" height="71.2" fill="none" stroke="#a0a0a0" stroke-width="0.7"/>
<line x1="228.7" y1="179.1" x2="228.7" y2="248.3" stroke="#999" stroke-width="0.9" stroke-dasharray="1.6 1.1"/>
<path d="M228.70,247.45 L232.26,247.44 L235.82,247.44 L239.38,247.44 L242.94,247.44 L246.50,247.44 L250.06,247.44 L253.62,247.44 L257.18,247.43 L260.74,247.43 L264.30,247.42 L267.86,247.41 L271.42,247.38 L274.98,247.35 L278.54,247.30 L282.10,247.23 L285.66,246.93 L287.01,246.16 L287.19,245.97 L287.37,245.76 L287.55,245.52 L287.72,245.23 L287.90,244.91 L288.08,244.53 L288.26,244.09 L288.44,243.58 L288.61,242.97 L288.79,242.24 L288.97,241.36 L289.15,240.29 L289.22,239.80 L289.33,238.98 L289.50,237.38 L289.68,235.43 L289.86,233.07 L290.04,230.26 L290.22,226.95 L290.39,223.14 L290.57,218.85 L290.75,214.12 L290.93,209.07 L291.11,203.84 L291.28,198.63 L291.46,193.64 L291.64,189.12 L291.82,185.30 L292.00,182.40 L292.17,180.58 L292.35,179.95 L292.53,179.92 L292.71,181.79 L292.78,182.85 L292.89,184.74 L293.06,188.61 L293.24,193.17 L293.42,198.20 L293.60,203.46 L293.78,208.72 L293.95,213.81 L294.13,218.56 L294.31,222.89 L294.49,226.73 L294.67,230.06 L294.84,232.90 L295.02,235.28 L295.20,237.25 L295.38,238.87 L295.56,240.20 L295.73,241.29 L295.91,242.18 L296.09,242.93 L296.27,243.55 L296.34,243.77 L296.45,244.08 L296.62,244.53 L296.80,244.92 L296.98,245.26 L297.16,245.55 L297.34,245.81 L297.51,246.03 L297.69,246.22 L299.90,247.21" fill="none" stroke="#1c1c1c" stroke-width="1.2" stroke-linejoin="round"/>
<line x1="228.7" y1="248.1" x2="299.9" y2="248.1" stroke="#222" stroke-width="0.9"/>
<text x="226.4" y="181.2" font-size="3.5" text-anchor="end" fill="#6a6a6a">100</text>
<line x1="227.3" y1="180.6" x2="228.7" y2="180.6" stroke="#888" stroke-width="0.7"/>
<text x="226.4" y="194.8" font-size="3.5" text-anchor="end" fill="#6a6a6a">80</text>
<line x1="227.3" y1="194.2" x2="228.7" y2="194.2" stroke="#888" stroke-width="0.7"/>
<text x="226.4" y="208.4" font-size="3.5" text-anchor="end" fill="#6a6a6a">60</text>
<line x1="227.3" y1="207.8" x2="228.7" y2="207.8" stroke="#888" stroke-width="0.7"/>
<text x="226.4" y="222.0" font-size="3.5" text-anchor="end" fill="#6a6a6a">40</text>
<line x1="227.3" y1="221.4" x2="228.7" y2="221.4" stroke="#888" stroke-width="0.7"/>
<text x="226.4" y="235.6" font-size="3.5" text-anchor="end" fill="#6a6a6a">20</text>
<line x1="227.3" y1="235.0" x2="228.7" y2="235.0" stroke="#888" stroke-width="0.7"/>
<text x="226.4" y="249.2" font-size="3.5" text-anchor="end" fill="#6a6a6a">0</text>
<line x1="227.3" y1="248.6" x2="228.7" y2="248.6" stroke="#888" stroke-width="0.7"/>
<text x="228.7" y="254.6" font-size="3.6" text-anchor="middle" fill="#666">10<tspan dy="-1.3" font-size="2.4">0</tspan></text>
<line x1="228.7" y1="248.3" x2="228.7" y2="249.9" stroke="#8a8a8a" stroke-width="0.7"/>
<text x="246.5" y="254.6" font-size="3.6" text-anchor="middle" fill="#666">10<tspan dy="-1.3" font-size="2.4">1</tspan></text>
<line x1="246.5" y1="248.3" x2="246.5" y2="249.9" stroke="#8a8a8a" stroke-width="0.7"/>
<text x="264.3" y="254.6" font-size="3.6" text-anchor="middle" fill="#666">10<tspan dy="-1.3" font-size="2.4">2</tspan></text>
<line x1="264.3" y1="248.3" x2="264.3" y2="249.9" stroke="#8a8a8a" stroke-width="0.7"/>
<text x="282.1" y="254.6" font-size="3.6" text-anchor="middle" fill="#666">10<tspan dy="-1.3" font-size="2.4">3</tspan></text>
<line x1="282.1" y1="248.3" x2="282.1" y2="249.9" stroke="#8a8a8a" stroke-width="0.7"/>
<text x="299.9" y="254.6" font-size="3.6" text-anchor="middle" fill="#666">10<tspan dy="-1.3" font-size="2.4">4</tspan></text>
<line x1="299.9" y1="248.3" x2="299.9" y2="249.9" stroke="#8a8a8a" stroke-width="0.7"/>
</g>
<g>
<path d="M314.70,248.30 L328.73,248.30 L331.08,245.45 L333.21,244.74 L334.85,242.96 L336.42,244.74 L338.20,242.60 L339.48,241.18 L341.76,239.04 L343.18,235.48 L344.07,229.43 L346.03,214.12 L347.91,200.17 L348.88,205.58 L350.23,208.64 L351.72,202.02 L353.76,185.07 L354.93,197.04 L355.92,203.44 L357.06,197.04 L358.20,181.73 L359.56,198.46 L360.98,210.21 L362.19,205.58 L363.29,197.04 L364.54,212.70 L366.37,227.08 L367.53,224.09 L368.67,217.11 L369.88,226.94 L371.30,232.64 L372.98,226.30 L373.01,226.42 L373.23,227.32 L373.44,228.22 L373.65,229.12 L373.87,230.01 L374.08,230.91 L374.29,231.81 L374.51,232.71 L374.72,233.61 L374.83,234.06 L374.94,234.13 L375.15,234.27 L375.36,234.40 L375.58,234.54 L375.79,233.33 L375.93,232.38 L376.00,231.90 L376.22,230.46 L376.43,229.03 L376.64,227.63 L376.86,226.30 L377.00,225.47 L377.07,225.07 L377.28,223.97 L377.50,223.03 L377.71,222.26 L377.93,221.70 L378.07,221.45 L378.14,221.36 L378.35,221.24 L378.57,221.36 L378.78,221.70 L378.99,222.26 L379.21,223.03 L379.42,223.97 L379.63,225.07 L379.85,226.30 L380.06,227.63 L380.28,229.03 L380.49,230.46 L380.70,231.90 L380.92,233.33 L381.13,234.72 L381.34,236.05 L381.56,237.31 L381.77,238.49 L381.98,239.57 L382.20,240.56 L382.41,241.46 L382.62,242.26 L382.84,242.98 L383.05,243.61 L383.27,244.16 L383.48,244.65 L383.69,245.07 L385.90,248.30 Z" fill="#9b9b9b" stroke="none"/>
<rect x="314.7" y="177.1" width="71.2" height="71.2" fill="none" stroke="#a0a0a0" stroke-width="0.7"/>
<line x1="314.7" y1="179.1" x2="314.7" y2="248.3" stroke="#999" stroke-width="0.9" stroke-dasharray="1.6 1.1"/>
<path d="M314.70,247.45 L318.26,247.44 L321.82,247.44 L325.38,247.44 L328.94,247.44 L332.50,247.44 L336.06,247.44 L339.62,247.44 L343.18,247.43 L346.74,247.43 L350.30,247.42 L353.86,247.41 L357.42,247.38 L360.98,247.35 L364.54,247.30 L368.10,247.23 L371.66,246.93 L373.01,246.16 L373.19,245.97 L373.37,245.76 L373.55,245.52 L373.72,245.23 L373.90,244.91 L374.08,244.53 L374.26,244.09 L374.44,243.58 L374.61,242.97 L374.79,242.24 L374.97,241.36 L375.15,240.29 L375.22,239.80 L375.33,238.98 L375.50,237.38 L375.68,235.43 L375.86,233.07 L376.04,230.26 L376.22,226.95 L376.39,223.14 L376.57,218.85 L376.75,214.12 L376.93,209.07 L377.11,203.84 L377.28,198.63 L377.46,193.64 L377.64,189.12 L377.82,185.30 L378.00,182.40 L378.17,180.58 L378.35,179.95 L378.53,179.92 L378.71,181.79 L378.78,182.85 L378.89,184.74 L379.06,188.61 L379.24,193.17 L379.42,198.20 L379.60,203.46 L379.78,208.72 L379.95,213.81 L380.13,218.56 L380.31,222.89 L380.49,226.73 L380.67,230.06 L380.84,232.90 L381.02,235.28 L381.20,237.25 L381.38,238.87 L381.56,240.20 L381.73,241.29 L381.91,242.18 L382.09,242.93 L382.27,243.55 L382.34,243.77 L382.45,244.08 L382.62,244.53 L382.80,244.92 L382.98,245.26 L383.16,245.55 L383.34,245.81 L383.51,246.03 L383.69,246.22 L385.90,247.21" fill="none" stroke="#1c1c1c" stroke-width="1.2" stroke-linejoin="round"/>
<line x1="314.7" y1="248.1" x2="385.9" y2="248.1" stroke="#222" stroke-width="0.9"/>
<text x="312.4" y="181.2" font-size="3.5" text-anchor="end" fill="#6a6a6a">100</text>
<line x1="313.3" y1="180.6" x2="314.7" y2="180.6" stroke="#888" stroke-width="0.7"/>
<text x="312.4" y="194.8" font-size="3.5" text-anchor="end" fill="#6a6a6a">80</text>
<line x1="313.3" y1="194.2" x2="314.7" y2="194.2" stroke="#888" stroke-width="0.7"/>
<text x="312.4" y="208.4" font-size="3.5" text-anchor="end" fill="#6a6a6a">60</text>
<line x1="313.3" y1="207.8" x2="314.7" y2="207.8" stroke="#888" stroke-width="0.7"/>
<text x="312.4" y="222.0" font-size="3.5" text-anchor="end" fill="#6a6a6a">40</text>
<line x1="313.3" y1="221.4" x2="314.7" y2="221.4" stroke="#888" stroke-width="0.7"/>
<text x="312.4" y="235.6" font-size="3.5" text-anchor="end" fill="#6a6a6a">20</text>
<line x1="313.3" y1="235.0" x2="314.7" y2="235.0" stroke="#888" stroke-width="0.7"/>
<text x="312.4" y="249.2" font-size="3.5" text-anchor="end" fill="#6a6a6a">0</text>
<line x1="313.3" y1="248.6" x2="314.7" y2="248.6" stroke="#888" stroke-width="0.7"/>
<text x="314.7" y="254.6" font-size="3.6" text-anchor="middle" fill="#666">10<tspan dy="-1.3" font-size="2.4">0</tspan></text>
<line x1="314.7" y1="248.3" x2="314.7" y2="249.9" stroke="#8a8a8a" stroke-width="0.7"/>
<text x="332.5" y="254.6" font-size="3.6" text-anchor="middle" fill="#666">10<tspan dy="-1.3" font-size="2.4">1</tspan></text>
<line x1="332.5" y1="248.3" x2="332.5" y2="249.9" stroke="#8a8a8a" stroke-width="0.7"/>
<text x="350.3" y="254.6" font-size="3.6" text-anchor="middle" fill="#666">10<tspan dy="-1.3" font-size="2.4">2</tspan></text>
<line x1="350.3" y1="248.3" x2="350.3" y2="249.9" stroke="#8a8a8a" stroke-width="0.7"/>
<text x="368.1" y="254.6" font-size="3.6" text-anchor="middle" fill="#666">10<tspan dy="-1.3" font-size="2.4">3</tspan></text>
<line x1="368.1" y1="248.3" x2="368.1" y2="249.9" stroke="#8a8a8a" stroke-width="0.7"/>
<text x="385.9" y="254.6" font-size="3.6" text-anchor="middle" fill="#666">10<tspan dy="-1.3" font-size="2.4">4</tspan></text>
<line x1="385.9" y1="248.3" x2="385.9" y2="249.9" stroke="#8a8a8a" stroke-width="0.7"/>
</g>
<g>
<path d="M400.80,248.30 L423.94,248.30 L425.72,246.88 L427.78,244.03 L428.92,239.76 L429.64,234.06 L431.13,230.93 L432.70,214.12 L434.41,204.87 L436.26,210.92 L437.82,200.17 L439.60,192.19 L441.67,198.60 L442.81,194.19 L443.95,184.01 L445.09,199.88 L446.26,212.49 L447.44,211.28 L448.58,207.57 L449.93,218.40 L451.64,227.87 L453.63,221.67 L454.91,226.94 L456.34,230.14 L458.61,224.09 L459.11,225.43 L459.33,226.01 L459.54,226.58 L459.75,227.16 L459.97,227.73 L460.18,228.31 L460.39,228.88 L460.47,229.08 L460.61,229.08 L460.82,229.08 L461.04,229.08 L461.25,229.08 L461.46,229.08 L461.68,229.08 L461.89,229.08 L462.03,229.08 L462.10,230.04 L462.32,227.15 L462.53,222.63 L462.74,217.56 L462.96,212.06 L463.17,206.34 L463.38,200.66 L463.46,198.84 L463.60,195.37 L463.81,190.78 L464.03,187.23 L464.24,184.99 L464.45,184.22 L464.67,184.99 L464.88,187.23 L465.09,190.78 L465.31,195.37 L465.52,200.66 L465.73,206.34 L465.95,212.06 L466.16,217.56 L466.38,222.63 L466.59,227.15 L466.80,231.04 L467.02,234.30 L467.23,236.97 L467.44,239.13 L467.66,240.85 L467.87,242.21 L468.08,243.30 L468.30,244.16 L468.51,244.87 L468.72,245.44 L468.94,245.92 L469.15,246.32 L469.37,246.65 L469.58,246.94 L469.79,247.18 L472.00,248.30 Z" fill="#9b9b9b" stroke="none"/>
<rect x="400.8" y="177.1" width="71.2" height="71.2" fill="none" stroke="#a0a0a0" stroke-width="0.7"/>
<line x1="400.8" y1="179.1" x2="400.8" y2="248.3" stroke="#999" stroke-width="0.9" stroke-dasharray="1.6 1.1"/>
<path d="M400.80,247.45 L404.36,247.44 L407.92,247.44 L411.48,247.44 L415.04,247.44 L418.60,247.44 L422.16,247.44 L425.72,247.44 L429.28,247.43 L432.84,247.43 L436.40,247.42 L439.96,247.41 L443.52,247.38 L447.08,247.35 L450.64,247.30 L454.20,247.23 L457.76,246.93 L459.11,246.16 L459.29,245.97 L459.47,245.76 L459.65,245.52 L459.82,245.23 L460.00,244.91 L460.18,244.53 L460.36,244.09 L460.54,243.58 L460.71,242.97 L460.89,242.24 L461.07,241.36 L461.25,240.29 L461.32,239.80 L461.43,238.98 L461.60,237.38 L461.78,235.43 L461.96,233.07 L462.14,230.26 L462.32,226.95 L462.49,223.14 L462.67,218.85 L462.85,214.12 L463.03,209.07 L463.21,203.84 L463.38,198.63 L463.56,193.64 L463.74,189.12 L463.92,185.30 L464.10,182.40 L464.27,180.58 L464.45,179.95 L464.63,179.92 L464.81,181.79 L464.88,182.85 L464.99,184.74 L465.16,188.61 L465.34,193.17 L465.52,198.20 L465.70,203.46 L465.88,208.72 L466.05,213.81 L466.23,218.56 L466.41,222.89 L466.59,226.73 L466.77,230.06 L466.94,232.90 L467.12,235.28 L467.30,237.25 L467.48,238.87 L467.66,240.20 L467.83,241.29 L468.01,242.18 L468.19,242.93 L468.37,243.55 L468.44,243.77 L468.55,244.08 L468.72,244.53 L468.90,244.92 L469.08,245.26 L469.26,245.55 L469.44,245.81 L469.61,246.03 L469.79,246.22 L472.00,247.21" fill="none" stroke="#1c1c1c" stroke-width="1.2" stroke-linejoin="round"/>
<line x1="400.8" y1="248.1" x2="472.0" y2="248.1" stroke="#222" stroke-width="0.9"/>
<text x="398.5" y="181.2" font-size="3.5" text-anchor="end" fill="#6a6a6a">100</text>
<line x1="399.4" y1="180.6" x2="400.8" y2="180.6" stroke="#888" stroke-width="0.7"/>
<text x="398.5" y="194.8" font-size="3.5" text-anchor="end" fill="#6a6a6a">80</text>
<line x1="399.4" y1="194.2" x2="400.8" y2="194.2" stroke="#888" stroke-width="0.7"/>
<text x="398.5" y="208.4" font-size="3.5" text-anchor="end" fill="#6a6a6a">60</text>
<line x1="399.4" y1="207.8" x2="400.8" y2="207.8" stroke="#888" stroke-width="0.7"/>
<text x="398.5" y="222.0" font-size="3.5" text-anchor="end" fill="#6a6a6a">40</text>
<line x1="399.4" y1="221.4" x2="400.8" y2="221.4" stroke="#888" stroke-width="0.7"/>
<text x="398.5" y="235.6" font-size="3.5" text-anchor="end" fill="#6a6a6a">20</text>
<line x1="399.4" y1="235.0" x2="400.8" y2="235.0" stroke="#888" stroke-width="0.7"/>
<text x="398.5" y="249.2" font-size="3.5" text-anchor="end" fill="#6a6a6a">0</text>
<line x1="399.4" y1="248.6" x2="400.8" y2="248.6" stroke="#888" stroke-width="0.7"/>
<text x="400.8" y="254.6" font-size="3.6" text-anchor="middle" fill="#666">10<tspan dy="-1.3" font-size="2.4">0</tspan></text>
<line x1="400.8" y1="248.3" x2="400.8" y2="249.9" stroke="#8a8a8a" stroke-width="0.7"/>
<text x="418.6" y="254.6" font-size="3.6" text-anchor="middle" fill="#666">10<tspan dy="-1.3" font-size="2.4">1</tspan></text>
<line x1="418.6" y1="248.3" x2="418.6" y2="249.9" stroke="#8a8a8a" stroke-width="0.7"/>
<text x="436.4" y="254.6" font-size="3.6" text-anchor="middle" fill="#666">10<tspan dy="-1.3" font-size="2.4">2</tspan></text>
<line x1="436.4" y1="248.3" x2="436.4" y2="249.9" stroke="#8a8a8a" stroke-width="0.7"/>
<text x="454.2" y="254.6" font-size="3.6" text-anchor="middle" fill="#666">10<tspan dy="-1.3" font-size="2.4">3</tspan></text>
<line x1="454.2" y1="248.3" x2="454.2" y2="249.9" stroke="#8a8a8a" stroke-width="0.7"/>
<text x="472.0" y="254.6" font-size="3.6" text-anchor="middle" fill="#666">10<tspan dy="-1.3" font-size="2.4">4</tspan></text>
<line x1="472.0" y1="248.3" x2="472.0" y2="249.9" stroke="#8a8a8a" stroke-width="0.7"/>
</g>
<g>
<path d="M56.50,1062.00 L87.65,1062.00 L88.90,1059.86 L89.96,1056.59 L91.03,1052.03 L92.24,1044.20 L93.17,1042.06 L94.24,1037.36 L95.80,1023.55 L97.63,1010.38 L98.65,1019.28 L99.62,1022.84 L100.79,1015.01 L101.93,1005.04 L102.92,1017.86 L104.06,1028.11 L105.27,1029.25 L106.34,1029.60 L107.41,1034.94 L108.69,1040.64 L109.90,1042.78 L111.11,1045.05 L112.39,1047.76 L113.74,1048.12 L113.82,1048.13 L114.03,1048.18 L114.24,1048.23 L114.46,1048.29 L114.67,1048.34 L114.88,1048.39 L115.10,1048.44 L115.24,1048.47 L115.31,1048.47 L115.52,1048.47 L115.74,1048.47 L115.95,1048.47 L116.17,1048.47 L116.38,1048.47 L116.59,1048.47 L116.66,1048.47 L116.81,1049.55 L117.02,1050.33 L117.23,1046.79 L117.45,1042.31 L117.66,1036.91 L117.87,1030.70 L118.09,1023.98 L118.30,1017.20 L118.44,1012.95 L118.52,1010.98 L118.73,1005.93 L118.94,1002.63 L119.16,1001.48 L119.37,1002.63 L119.58,1005.93 L119.80,1010.98 L120.01,1017.20 L120.22,1023.98 L120.44,1030.70 L120.65,1036.91 L120.86,1042.31 L121.08,1046.79 L121.29,1050.33 L121.51,1053.06 L121.72,1055.12 L121.93,1056.66 L122.15,1057.81 L122.36,1058.69 L122.57,1059.37 L122.79,1059.91 L123.00,1060.34 L123.21,1060.70 L123.43,1060.98 L123.64,1061.21 L123.86,1061.40 L124.07,1061.55 L124.28,1061.66 L124.50,1061.75 L127.70,1062.00 Z" fill="#9b9b9b" stroke="none"/>
<rect x="56.5" y="990.8" width="71.2" height="71.2" fill="none" stroke="#a0a0a0" stroke-width="0.7"/>
<line x1="56.5" y1="992.8" x2="56.5" y2="1062.0" stroke="#999" stroke-width="0.9" stroke-dasharray="1.6 1.1"/>
<path d="M56.50,1061.15 L60.06,1061.14 L63.62,1061.14 L67.18,1061.14 L70.74,1061.14 L74.30,1061.14 L77.86,1061.14 L81.42,1061.14 L84.98,1061.13 L88.54,1061.13 L92.10,1061.12 L95.66,1061.10 L99.22,1061.08 L102.78,1061.04 L106.34,1060.99 L109.90,1060.90 L113.46,1060.68 L113.82,1060.58 L113.99,1060.51 L114.17,1060.43 L114.35,1060.32 L114.53,1060.19 L114.71,1060.04 L114.88,1059.84 L115.06,1059.62 L115.24,1059.34 L115.42,1059.01 L115.60,1058.62 L115.77,1058.15 L115.95,1057.58 L116.13,1056.88 L116.31,1056.01 L116.49,1054.91 L116.66,1053.49 L116.84,1051.67 L117.02,1049.33 L117.20,1046.35 L117.38,1042.64 L117.55,1038.14 L117.73,1032.86 L117.91,1026.89 L118.09,1020.44 L118.27,1013.84 L118.44,1007.50 L118.62,1001.89 L118.80,997.47 L118.98,994.63 L119.16,993.65 L119.33,993.98 L119.51,996.86 L119.69,1001.33 L119.87,1006.99 L120.05,1013.37 L120.22,1020.01 L120.40,1026.50 L120.58,1032.50 L120.76,1037.82 L120.94,1042.36 L121.11,1046.10 L121.29,1049.10 L121.47,1051.47 L121.65,1053.32 L121.83,1054.76 L122.00,1055.88 L122.18,1056.78 L122.36,1057.49 L122.54,1058.08 L122.72,1058.57 L122.89,1058.98 L123.07,1059.32 L123.25,1059.61 L123.43,1059.85 L123.61,1060.05 L123.78,1060.22 L123.96,1060.36 L124.14,1060.47 L124.32,1060.57 L124.50,1060.64 L127.70,1061.02" fill="none" stroke="#1c1c1c" stroke-width="1.2" stroke-linejoin="round"/>
<line x1="56.5" y1="1061.8" x2="127.7" y2="1061.8" stroke="#222" stroke-width="0.9"/>
<text x="54.2" y="994.9" font-size="3.5" text-anchor="end" fill="#6a6a6a">100</text>
<line x1="55.1" y1="994.3" x2="56.5" y2="994.3" stroke="#888" stroke-width="0.7"/>
<text x="54.2" y="1008.5" font-size="3.5" text-anchor="end" fill="#6a6a6a">80</text>
<line x1="55.1" y1="1007.9" x2="56.5" y2="1007.9" stroke="#888" stroke-width="0.7"/>
<text x="54.2" y="1022.1" font-size="3.5" text-anchor="end" fill="#6a6a6a">60</text>
<line x1="55.1" y1="1021.5" x2="56.5" y2="1021.5" stroke="#888" stroke-width="0.7"/>
<text x="54.2" y="1035.7" font-size="3.5" text-anchor="end" fill="#6a6a6a">40</text>
<line x1="55.1" y1="1035.1" x2="56.5" y2="1035.1" stroke="#888" stroke-width="0.7"/>
<text x="54.2" y="1049.3" font-size="3.5" text-anchor="end" fill="#6a6a6a">20</text>
<line x1="55.1" y1="1048.7" x2="56.5" y2="1048.7" stroke="#888" stroke-width="0.7"/>
<text x="54.2" y="1062.9" font-size="3.5" text-anchor="end" fill="#6a6a6a">0</text>
<line x1="55.1" y1="1062.3" x2="56.5" y2="1062.3" stroke="#888" stroke-width="0.7"/>
<text x="56.5" y="1068.3" font-size="3.6" text-anchor="middle" fill="#666">10<tspan dy="-1.3" font-size="2.4">0</tspan></text>
<line x1="56.5" y1="1062.0" x2="56.5" y2="1063.6" stroke="#8a8a8a" stroke-width="0.7"/>
<text x="74.3" y="1068.3" font-size="3.6" text-anchor="middle" fill="#666">10<tspan dy="-1.3" font-size="2.4">1</tspan></text>
<line x1="74.3" y1="1062.0" x2="74.3" y2="1063.6" stroke="#8a8a8a" stroke-width="0.7"/>
<text x="92.1" y="1068.3" font-size="3.6" text-anchor="middle" fill="#666">10<tspan dy="-1.3" font-size="2.4">2</tspan></text>
<line x1="92.1" y1="1062.0" x2="92.1" y2="1063.6" stroke="#8a8a8a" stroke-width="0.7"/>
<text x="109.9" y="1068.3" font-size="3.6" text-anchor="middle" fill="#666">10<tspan dy="-1.3" font-size="2.4">3</tspan></text>
<line x1="109.9" y1="1062.0" x2="109.9" y2="1063.6" stroke="#8a8a8a" stroke-width="0.7"/>
<text x="127.7" y="1068.3" font-size="3.6" text-anchor="middle" fill="#666">10<tspan dy="-1.3" font-size="2.4">4</tspan></text>
<line x1="127.7" y1="1062.0" x2="127.7" y2="1063.6" stroke="#8a8a8a" stroke-width="0.7"/>
</g>
<g>
<path d="M142.70,1062.00 L172.82,1062.00 L174.38,1059.15 L175.91,1055.09 L177.59,1052.74 L179.01,1050.61 L180.83,1045.05 L182.36,1035.80 L183.60,1033.02 L185.14,1035.80 L186.49,1029.25 L187.77,1021.13 L188.98,1027.82 L190.55,1034.23 L191.83,1033.52 L192.82,1031.95 L193.96,1037.79 L195.14,1042.78 L196.46,1042.78 L197.45,1042.06 L198.59,1046.34 L199.66,1049.68 L200.02,1050.09 L200.23,1050.33 L200.44,1050.57 L200.66,1050.82 L200.87,1051.06 L201.08,1051.30 L201.30,1051.55 L201.51,1051.79 L201.72,1052.03 L201.94,1052.03 L202.15,1052.03 L202.37,1052.03 L202.58,1052.03 L202.79,1052.03 L203.01,1052.03 L203.22,1051.02 L203.43,1047.68 L203.65,1043.47 L203.86,1038.39 L204.07,1032.54 L204.29,1026.21 L204.50,1019.84 L204.64,1015.84 L204.72,1013.98 L204.93,1009.22 L205.14,1006.12 L205.36,1005.04 L205.57,1006.12 L205.78,1009.22 L206.00,1013.98 L206.21,1019.84 L206.42,1026.21 L206.64,1032.54 L206.85,1038.39 L207.06,1043.47 L207.28,1047.68 L207.49,1051.02 L207.71,1053.59 L207.92,1055.53 L208.13,1056.97 L208.35,1058.06 L208.56,1058.88 L208.77,1059.53 L208.99,1060.03 L209.20,1060.44 L209.41,1060.77 L209.63,1061.04 L209.84,1061.26 L210.06,1061.43 L210.27,1061.57 L210.48,1061.68 L210.70,1061.76 L213.90,1062.00 Z" fill="#9b9b9b" stroke="none"/>
<rect x="142.7" y="990.8" width="71.2" height="71.2" fill="none" stroke="#a0a0a0" stroke-width="0.7"/>
<line x1="142.7" y1="992.8" x2="142.7" y2="1062.0" stroke="#999" stroke-width="0.9" stroke-dasharray="1.6 1.1"/>
<path d="M142.70,1061.15 L146.26,1061.14 L149.82,1061.14 L153.38,1061.14 L156.94,1061.14 L160.50,1061.14 L164.06,1061.14 L167.62,1061.14 L171.18,1061.13 L174.74,1061.13 L178.30,1061.12 L181.86,1061.10 L185.42,1061.08 L188.98,1061.04 L192.54,1060.99 L196.10,1060.90 L199.66,1060.68 L200.02,1060.58 L200.19,1060.51 L200.37,1060.43 L200.55,1060.32 L200.73,1060.19 L200.91,1060.04 L201.08,1059.84 L201.26,1059.62 L201.44,1059.34 L201.62,1059.01 L201.80,1058.62 L201.97,1058.15 L202.15,1057.58 L202.33,1056.88 L202.51,1056.01 L202.69,1054.91 L202.86,1053.49 L203.04,1051.67 L203.22,1049.33 L203.40,1046.35 L203.58,1042.64 L203.75,1038.14 L203.93,1032.86 L204.11,1026.89 L204.29,1020.44 L204.47,1013.84 L204.64,1007.50 L204.82,1001.89 L205.00,997.47 L205.18,994.63 L205.36,993.65 L205.53,993.98 L205.71,996.86 L205.89,1001.33 L206.07,1006.99 L206.25,1013.37 L206.42,1020.01 L206.60,1026.50 L206.78,1032.50 L206.96,1037.82 L207.14,1042.36 L207.31,1046.10 L207.49,1049.10 L207.67,1051.47 L207.85,1053.32 L208.03,1054.76 L208.20,1055.88 L208.38,1056.78 L208.56,1057.49 L208.74,1058.08 L208.92,1058.57 L209.09,1058.98 L209.27,1059.32 L209.45,1059.61 L209.63,1059.85 L209.81,1060.05 L209.98,1060.22 L210.16,1060.36 L210.34,1060.47 L210.52,1060.57 L210.70,1060.64 L213.90,1061.02" fill="none" stroke="#1c1c1c" stroke-width="1.2" stroke-linejoin="round"/>
<line x1="142.7" y1="1061.8" x2="213.9" y2="1061.8" stroke="#222" stroke-width="0.9"/>
<text x="140.4" y="994.9" font-size="3.5" text-anchor="end" fill="#6a6a6a">100</text>
<line x1="141.3" y1="994.3" x2="142.7" y2="994.3" stroke="#888" stroke-width="0.7"/>
<text x="140.4" y="1008.5" font-size="3.5" text-anchor="end" fill="#6a6a6a">80</text>
<line x1="141.3" y1="1007.9" x2="142.7" y2="1007.9" stroke="#888" stroke-width="0.7"/>
<text x="140.4" y="1022.1" font-size="3.5" text-anchor="end" fill="#6a6a6a">60</text>
<line x1="141.3" y1="1021.5" x2="142.7" y2="1021.5" stroke="#888" stroke-width="0.7"/>
<text x="140.4" y="1035.7" font-size="3.5" text-anchor="end" fill="#6a6a6a">40</text>
<line x1="141.3" y1="1035.1" x2="142.7" y2="1035.1" stroke="#888" stroke-width="0.7"/>
<text x="140.4" y="1049.3" font-size="3.5" text-anchor="end" fill="#6a6a6a">20</text>
<line x1="141.3" y1="1048.7" x2="142.7" y2="1048.7" stroke="#888" stroke-width="0.7"/>
<text x="140.4" y="1062.9" font-size="3.5" text-anchor="end" fill="#6a6a6a">0</text>
<line x1="141.3" y1="1062.3" x2="142.7" y2="1062.3" stroke="#888" stroke-width="0.7"/>
<text x="142.7" y="1068.3" font-size="3.6" text-anchor="middle" fill="#666">10<tspan dy="-1.3" font-size="2.4">0</tspan></text>
<line x1="142.7" y1="1062.0" x2="142.7" y2="1063.6" stroke="#8a8a8a" stroke-width="0.7"/>
<text x="160.5" y="1068.3" font-size="3.6" text-anchor="middle" fill="#666">10<tspan dy="-1.3" font-size="2.4">1</tspan></text>
<line x1="160.5" y1="1062.0" x2="160.5" y2="1063.6" stroke="#8a8a8a" stroke-width="0.7"/>
<text x="178.3" y="1068.3" font-size="3.6" text-anchor="middle" fill="#666">10<tspan dy="-1.3" font-size="2.4">2</tspan></text>
<line x1="178.3" y1="1062.0" x2="178.3" y2="1063.6" stroke="#8a8a8a" stroke-width="0.7"/>
<text x="196.1" y="1068.3" font-size="3.6" text-anchor="middle" fill="#666">10<tspan dy="-1.3" font-size="2.4">3</tspan></text>
<line x1="196.1" y1="1062.0" x2="196.1" y2="1063.6" stroke="#8a8a8a" stroke-width="0.7"/>
<text x="213.9" y="1068.3" font-size="3.6" text-anchor="middle" fill="#666">10<tspan dy="-1.3" font-size="2.4">4</tspan></text>
<line x1="213.9" y1="1062.0" x2="213.9" y2="1063.6" stroke="#8a8a8a" stroke-width="0.7"/>
</g>
<g>
<path d="M228.70,1062.00 L261.17,1062.00 L262.52,1058.44 L264.23,1054.31 L265.37,1053.46 L266.51,1052.03 L267.50,1046.34 L268.36,1038.86 L269.92,1027.82 L270.71,1033.52 L271.61,1038.86 L272.84,1029.96 L274.20,1015.01 L275.34,1026.40 L276.83,1035.02 L277.97,1032.10 L279.11,1028.89 L280.32,1034.94 L281.60,1041.21 L282.67,1041.71 L283.74,1042.06 L284.59,1046.34 L285.66,1050.61 L286.02,1051.59 L286.23,1052.18 L286.44,1052.77 L286.66,1053.36 L286.87,1053.95 L287.08,1054.54 L287.30,1055.13 L287.51,1055.71 L287.72,1056.30 L287.94,1056.51 L288.15,1056.71 L288.37,1056.91 L288.58,1056.66 L288.79,1055.12 L289.01,1053.06 L289.22,1050.33 L289.43,1046.79 L289.65,1042.31 L289.86,1036.91 L290.07,1030.70 L290.29,1023.98 L290.50,1017.20 L290.64,1012.95 L290.72,1010.98 L290.93,1005.93 L291.14,1002.63 L291.36,1001.48 L291.57,1002.63 L291.78,1005.93 L292.00,1010.98 L292.21,1017.20 L292.42,1023.98 L292.64,1030.70 L292.85,1036.91 L293.06,1042.31 L293.28,1046.79 L293.49,1050.33 L293.71,1053.06 L293.92,1055.12 L294.13,1056.66 L294.35,1057.81 L294.56,1058.69 L294.77,1059.37 L294.99,1059.91 L295.20,1060.34 L295.41,1060.70 L295.63,1060.98 L295.84,1061.21 L296.06,1061.40 L296.27,1061.55 L296.48,1061.66 L296.70,1061.75 L299.90,1062.00 Z" fill="#9b9b9b" stroke="none"/>
<rect x="228.7" y="990.8" width="71.2" height="71.2" fill="none" stroke="#a0a0a0" stroke-width="0.7"/>
<line x1="228.7" y1="992.8" x2="228.7" y2="1062.0" stroke="#999" stroke-width="0.9" stroke-dasharray="1.6 1.1"/>
<path d="M228.70,1061.15 L232.26,1061.14 L235.82,1061.14 L239.38,1061.14 L242.94,1061.14 L246.50,1061.14 L250.06,1061.14 L253.62,1061.14 L257.18,1061.13 L260.74,1061.13 L264.30,1061.12 L267.86,1061.10 L271.42,1061.08 L274.98,1061.04 L278.54,1060.99 L282.10,1060.90 L285.66,1060.68 L286.02,1060.58 L286.19,1060.51 L286.37,1060.43 L286.55,1060.32 L286.73,1060.19 L286.91,1060.04 L287.08,1059.84 L287.26,1059.62 L287.44,1059.34 L287.62,1059.01 L287.80,1058.62 L287.97,1058.15 L288.15,1057.58 L288.33,1056.88 L288.51,1056.01 L288.69,1054.91 L288.86,1053.49 L289.04,1051.67 L289.22,1049.33 L289.40,1046.35 L289.58,1042.64 L289.75,1038.14 L289.93,1032.86 L290.11,1026.89 L290.29,1020.44 L290.47,1013.84 L290.64,1007.50 L290.82,1001.89 L291.00,997.47 L291.18,994.63 L291.36,993.65 L291.53,993.98 L291.71,996.86 L291.89,1001.33 L292.07,1006.99 L292.25,1013.37 L292.42,1020.01 L292.60,1026.50 L292.78,1032.50 L292.96,1037.82 L293.14,1042.36 L293.31,1046.10 L293.49,1049.10 L293.67,1051.47 L293.85,1053.32 L294.03,1054.76 L294.20,1055.88 L294.38,1056.78 L294.56,1057.49 L294.74,1058.08 L294.92,1058.57 L295.09,1058.98 L295.27,1059.32 L295.45,1059.61 L295.63,1059.85 L295.81,1060.05 L295.98,1060.22 L296.16,1060.36 L296.34,1060.47 L296.52,1060.57 L296.70,1060.64 L299.90,1061.02" fill="none" stroke="#1c1c1c" stroke-width="1.2" stroke-linejoin="round"/>
<line x1="228.7" y1="1061.8" x2="299.9" y2="1061.8" stroke="#222" stroke-width="0.9"/>
<text x="226.4" y="994.9" font-size="3.5" text-anchor="end" fill="#6a6a6a">100</text>
<line x1="227.3" y1="994.3" x2="228.7" y2="994.3" stroke="#888" stroke-width="0.7"/>
<text x="226.4" y="1008.5" font-size="3.5" text-anchor="end" fill="#6a6a6a">80</text>
<line x1="227.3" y1="1007.9" x2="228.7" y2="1007.9" stroke="#888" stroke-width="0.7"/>
<text x="226.4" y="1022.1" font-size="3.5" text-anchor="end" fill="#6a6a6a">60</text>
<line x1="227.3" y1="1021.5" x2="228.7" y2="1021.5" stroke="#888" stroke-width="0.7"/>
<text x="226.4" y="1035.7" font-size="3.5" text-anchor="end" fill="#6a6a6a">40</text>
<line x1="227.3" y1="1035.1" x2="228.7" y2="1035.1" stroke="#888" stroke-width="0.7"/>
<text x="226.4" y="1049.3" font-size="3.5" text-anchor="end" fill="#6a6a6a">20</text>
<line x1="227.3" y1="1048.7" x2="228.7" y2="1048.7" stroke="#888" stroke-width="0.7"/>
<text x="226.4" y="1062.9" font-size="3.5" text-anchor="end" fill="#6a6a6a">0</text>
<line x1="227.3" y1="1062.3" x2="228.7" y2="1062.3" stroke="#888" stroke-width="0.7"/>
<text x="228.7" y="1068.3" font-size="3.6" text-anchor="middle" fill="#666">10<tspan dy="-1.3" font-size="2.4">0</tspan></text>
<line x1="228.7" y1="1062.0" x2="228.7" y2="1063.6" stroke="#8a8a8a" stroke-width="0.7"/>
<text x="246.5" y="1068.3" font-size="3.6" text-anchor="middle" fill="#666">10<tspan dy="-1.3" font-size="2.4">1</tspan></text>
<line x1="246.5" y1="1062.0" x2="246.5" y2="1063.6" stroke="#8a8a8a" stroke-width="0.7"/>
<text x="264.3" y="1068.3" font-size="3.6" text-anchor="middle" fill="#666">10<tspan dy="-1.3" font-size="2.4">2</tspan></text>
<line x1="264.3" y1="1062.0" x2="264.3" y2="1063.6" stroke="#8a8a8a" stroke-width="0.7"/>
<text x="282.1" y="1068.3" font-size="3.6" text-anchor="middle" fill="#666">10<tspan dy="-1.3" font-size="2.4">3</tspan></text>
<line x1="282.1" y1="1062.0" x2="282.1" y2="1063.6" stroke="#8a8a8a" stroke-width="0.7"/>
<text x="299.9" y="1068.3" font-size="3.6" text-anchor="middle" fill="#666">10<tspan dy="-1.3" font-size="2.4">4</tspan></text>
<line x1="299.9" y1="1062.0" x2="299.9" y2="1063.6" stroke="#8a8a8a" stroke-width="0.7"/>
</g>
<g>
<path d="M314.70,1062.00 L346.67,1062.00 L348.52,1058.44 L350.23,1054.88 L351.37,1053.46 L352.51,1052.03 L353.36,1046.34 L354.07,1040.64 L355.92,1031.95 L356.71,1035.66 L357.61,1038.86 L358.84,1030.67 L360.20,1018.85 L361.34,1027.82 L362.83,1034.23 L363.97,1033.16 L365.11,1031.95 L366.32,1037.08 L367.46,1042.06 L368.67,1043.49 L369.74,1044.27 L370.59,1047.76 L371.66,1051.32 L372.02,1052.47 L372.23,1053.16 L372.44,1053.85 L372.66,1054.54 L372.87,1055.24 L373.08,1055.93 L373.30,1056.62 L373.51,1057.31 L373.72,1058.00 L373.94,1058.69 L374.08,1058.93 L374.15,1058.69 L374.37,1057.81 L374.58,1056.66 L374.79,1055.12 L375.01,1053.06 L375.22,1050.33 L375.43,1046.79 L375.65,1042.31 L375.86,1036.91 L376.07,1030.70 L376.29,1023.98 L376.50,1017.20 L376.64,1012.95 L376.72,1010.98 L376.93,1005.93 L377.14,1002.63 L377.36,1001.48 L377.57,1002.63 L377.78,1005.93 L378.00,1010.98 L378.21,1017.20 L378.42,1023.98 L378.64,1030.70 L378.85,1036.91 L379.06,1042.31 L379.28,1046.79 L379.49,1050.33 L379.71,1053.06 L379.92,1055.12 L380.13,1056.66 L380.35,1057.81 L380.56,1058.69 L380.77,1059.37 L380.99,1059.91 L381.20,1060.34 L381.41,1060.70 L381.63,1060.98 L381.84,1061.21 L382.06,1061.40 L382.27,1061.55 L382.48,1061.66 L382.70,1061.75 L385.90,1062.00 Z" fill="#9b9b9b" stroke="none"/>
<rect x="314.7" y="990.8" width="71.2" height="71.2" fill="none" stroke="#a0a0a0" stroke-width="0.7"/>
<line x1="314.7" y1="992.8" x2="314.7" y2="1062.0" stroke="#999" stroke-width="0.9" stroke-dasharray="1.6 1.1"/>
<path d="M314.70,1061.15 L318.26,1061.14 L321.82,1061.14 L325.38,1061.14 L328.94,1061.14 L332.50,1061.14 L336.06,1061.14 L339.62,1061.14 L343.18,1061.13 L346.74,1061.13 L350.30,1061.12 L353.86,1061.10 L357.42,1061.08 L360.98,1061.04 L364.54,1060.99 L368.10,1060.90 L371.66,1060.68 L372.02,1060.58 L372.19,1060.51 L372.37,1060.43 L372.55,1060.32 L372.73,1060.19 L372.91,1060.04 L373.08,1059.84 L373.26,1059.62 L373.44,1059.34 L373.62,1059.01 L373.80,1058.62 L373.97,1058.15 L374.15,1057.58 L374.33,1056.88 L374.51,1056.01 L374.69,1054.91 L374.86,1053.49 L375.04,1051.67 L375.22,1049.33 L375.40,1046.35 L375.58,1042.64 L375.75,1038.14 L375.93,1032.86 L376.11,1026.89 L376.29,1020.44 L376.47,1013.84 L376.64,1007.50 L376.82,1001.89 L377.00,997.47 L377.18,994.63 L377.36,993.65 L377.53,993.98 L377.71,996.86 L377.89,1001.33 L378.07,1006.99 L378.25,1013.37 L378.42,1020.01 L378.60,1026.50 L378.78,1032.50 L378.96,1037.82 L379.14,1042.36 L379.31,1046.10 L379.49,1049.10 L379.67,1051.47 L379.85,1053.32 L380.03,1054.76 L380.20,1055.88 L380.38,1056.78 L380.56,1057.49 L380.74,1058.08 L380.92,1058.57 L381.09,1058.98 L381.27,1059.32 L381.45,1059.61 L381.63,1059.85 L381.81,1060.05 L381.98,1060.22 L382.16,1060.36 L382.34,1060.47 L382.52,1060.57 L382.70,1060.64 L385.90,1061.02" fill="none" stroke="#1c1c1c" stroke-width="1.2" stroke-linejoin="round"/>
<line x1="314.7" y1="1061.8" x2="385.9" y2="1061.8" stroke="#222" stroke-width="0.9"/>
<text x="312.4" y="994.9" font-size="3.5" text-anchor="end" fill="#6a6a6a">100</text>
<line x1="313.3" y1="994.3" x2="314.7" y2="994.3" stroke="#888" stroke-width="0.7"/>
<text x="312.4" y="1008.5" font-size="3.5" text-anchor="end" fill="#6a6a6a">80</text>
<line x1="313.3" y1="1007.9" x2="314.7" y2="1007.9" stroke="#888" stroke-width="0.7"/>
<text x="312.4" y="1022.1" font-size="3.5" text-anchor="end" fill="#6a6a6a">60</text>
<line x1="313.3" y1="1021.5" x2="314.7" y2="1021.5" stroke="#888" stroke-width="0.7"/>
<text x="312.4" y="1035.7" font-size="3.5" text-anchor="end" fill="#6a6a6a">40</text>
<line x1="313.3" y1="1035.1" x2="314.7" y2="1035.1" stroke="#888" stroke-width="0.7"/>
<text x="312.4" y="1049.3" font-size="3.5" text-anchor="end" fill="#6a6a6a">20</text>
<line x1="313.3" y1="1048.7" x2="314.7" y2="1048.7" stroke="#888" stroke-width="0.7"/>
<text x="312.4" y="1062.9" font-size="3.5" text-anchor="end" fill="#6a6a6a">0</text>
<line x1="313.3" y1="1062.3" x2="314.7" y2="1062.3" stroke="#888" stroke-width="0.7"/>
<text x="314.7" y="1068.3" font-size="3.6" text-anchor="middle" fill="#666">10<tspan dy="-1.3" font-size="2.4">0</tspan></text>
<line x1="314.7" y1="1062.0" x2="314.7" y2="1063.6" stroke="#8a8a8a" stroke-width="0.7"/>
<text x="332.5" y="1068.3" font-size="3.6" text-anchor="middle" fill="#666">10<tspan dy="-1.3" font-size="2.4">1</tspan></text>
<line x1="332.5" y1="1062.0" x2="332.5" y2="1063.6" stroke="#8a8a8a" stroke-width="0.7"/>
<text x="350.3" y="1068.3" font-size="3.6" text-anchor="middle" fill="#666">10<tspan dy="-1.3" font-size="2.4">2</tspan></text>
<line x1="350.3" y1="1062.0" x2="350.3" y2="1063.6" stroke="#8a8a8a" stroke-width="0.7"/>
<text x="368.1" y="1068.3" font-size="3.6" text-anchor="middle" fill="#666">10<tspan dy="-1.3" font-size="2.4">3</tspan></text>
<line x1="368.1" y1="1062.0" x2="368.1" y2="1063.6" stroke="#8a8a8a" stroke-width="0.7"/>
<text x="385.9" y="1068.3" font-size="3.6" text-anchor="middle" fill="#666">10<tspan dy="-1.3" font-size="2.4">4</tspan></text>
<line x1="385.9" y1="1062.0" x2="385.9" y2="1063.6" stroke="#8a8a8a" stroke-width="0.7"/>
</g>
<g>
<path d="M400.80,1062.00 L433.62,1062.00 L434.98,1058.44 L436.68,1055.59 L437.82,1054.17 L438.89,1052.74 L439.68,1046.34 L440.39,1040.64 L441.95,1031.95 L442.81,1036.37 L443.95,1040.64 L445.09,1029.96 L446.26,1015.72 L447.44,1027.82 L449.04,1037.36 L450.07,1033.52 L451.21,1028.89 L452.42,1036.37 L453.63,1042.78 L454.77,1042.06 L455.84,1041.21 L457.05,1047.05 L458.12,1051.32 L458.33,1052.08 L458.54,1052.85 L458.76,1053.61 L458.97,1054.37 L459.18,1055.13 L459.40,1055.90 L459.61,1056.66 L459.82,1057.42 L460.04,1058.19 L460.11,1058.44 L460.25,1058.52 L460.47,1057.81 L460.68,1056.66 L460.89,1055.12 L461.11,1053.06 L461.32,1050.33 L461.53,1046.79 L461.75,1042.31 L461.96,1036.91 L462.17,1030.70 L462.39,1023.98 L462.60,1017.20 L462.74,1012.95 L462.82,1010.98 L463.03,1005.93 L463.24,1002.63 L463.46,1001.48 L463.67,1002.63 L463.88,1005.93 L464.10,1010.98 L464.31,1017.20 L464.52,1023.98 L464.74,1030.70 L464.95,1036.91 L465.16,1042.31 L465.38,1046.79 L465.59,1050.33 L465.81,1053.06 L466.02,1055.12 L466.23,1056.66 L466.45,1057.81 L466.66,1058.69 L466.87,1059.37 L467.09,1059.91 L467.30,1060.34 L467.51,1060.70 L467.73,1060.98 L467.94,1061.21 L468.16,1061.40 L468.37,1061.55 L468.58,1061.66 L468.80,1061.75 L472.00,1062.00 Z" fill="#9b9b9b" stroke="none"/>
<rect x="400.8" y="990.8" width="71.2" height="71.2" fill="none" stroke="#a0a0a0" stroke-width="0.7"/>
<line x1="400.8" y1="992.8" x2="400.8" y2="1062.0" stroke="#999" stroke-width="0.9" stroke-dasharray="1.6 1.1"/>
<path d="M400.80,1061.15 L404.36,1061.14 L407.92,1061.14 L411.48,1061.14 L415.04,1061.14 L418.60,1061.14 L422.16,1061.14 L425.72,1061.14 L429.28,1061.13 L432.84,1061.13 L436.40,1061.12 L439.96,1061.10 L443.52,1061.08 L447.08,1061.04 L450.64,1060.99 L454.20,1060.90 L457.76,1060.68 L458.12,1060.58 L458.29,1060.51 L458.47,1060.43 L458.65,1060.32 L458.83,1060.19 L459.01,1060.04 L459.18,1059.84 L459.36,1059.62 L459.54,1059.34 L459.72,1059.01 L459.90,1058.62 L460.07,1058.15 L460.25,1057.58 L460.43,1056.88 L460.61,1056.01 L460.79,1054.91 L460.96,1053.49 L461.14,1051.67 L461.32,1049.33 L461.50,1046.35 L461.68,1042.64 L461.85,1038.14 L462.03,1032.86 L462.21,1026.89 L462.39,1020.44 L462.57,1013.84 L462.74,1007.50 L462.92,1001.89 L463.10,997.47 L463.28,994.63 L463.46,993.65 L463.63,993.98 L463.81,996.86 L463.99,1001.33 L464.17,1006.99 L464.35,1013.37 L464.52,1020.01 L464.70,1026.50 L464.88,1032.50 L465.06,1037.82 L465.24,1042.36 L465.41,1046.10 L465.59,1049.10 L465.77,1051.47 L465.95,1053.32 L466.13,1054.76 L466.30,1055.88 L466.48,1056.78 L466.66,1057.49 L466.84,1058.08 L467.02,1058.57 L467.19,1058.98 L467.37,1059.32 L467.55,1059.61 L467.73,1059.85 L467.91,1060.05 L468.08,1060.22 L468.26,1060.36 L468.44,1060.47 L468.62,1060.57 L468.80,1060.64 L472.00,1061.02" fill="none" stroke="#1c1c1c" stroke-width="1.2" stroke-linejoin="round"/>
<line x1="400.8" y1="1061.8" x2="472.0" y2="1061.8" stroke="#222" stroke-width="0.9"/>
<text x="398.5" y="994.9" font-size="3.5" text-anchor="end" fill="#6a6a6a">100</text>
<line x1="399.4" y1="994.3" x2="400.8" y2="994.3" stroke="#888" stroke-width="0.7"/>
<text x="398.5" y="1008.5" font-size="3.5" text-anchor="end" fill="#6a6a6a">80</text>
<line x1="399.4" y1="1007.9" x2="400.8" y2="1007.9" stroke="#888" stroke-width="0.7"/>
<text x="398.5" y="1022.1" font-size="3.5" text-anchor="end" fill="#6a6a6a">60</text>
<line x1="399.4" y1="1021.5" x2="400.8" y2="1021.5" stroke="#888" stroke-width="0.7"/>
<text x="398.5" y="1035.7" font-size="3.5" text-anchor="end" fill="#6a6a6a">40</text>
<line x1="399.4" y1="1035.1" x2="400.8" y2="1035.1" stroke="#888" stroke-width="0.7"/>
<text x="398.5" y="1049.3" font-size="3.5" text-anchor="end" fill="#6a6a6a">20</text>
<line x1="399.4" y1="1048.7" x2="400.8" y2="1048.7" stroke="#888" stroke-width="0.7"/>
<text x="398.5" y="1062.9" font-size="3.5" text-anchor="end" fill="#6a6a6a">0</text>
<line x1="399.4" y1="1062.3" x2="400.8" y2="1062.3" stroke="#888" stroke-width="0.7"/>
<text x="400.8" y="1068.3" font-size="3.6" text-anchor="middle" fill="#666">10<tspan dy="-1.3" font-size="2.4">0</tspan></text>
<line x1="400.8" y1="1062.0" x2="400.8" y2="1063.6" stroke="#8a8a8a" stroke-width="0.7"/>
<text x="418.6" y="1068.3" font-size="3.6" text-anchor="middle" fill="#666">10<tspan dy="-1.3" font-size="2.4">1</tspan></text>
<line x1="418.6" y1="1062.0" x2="418.6" y2="1063.6" stroke="#8a8a8a" stroke-width="0.7"/>
<text x="436.4" y="1068.3" font-size="3.6" text-anchor="middle" fill="#666">10<tspan dy="-1.3" font-size="2.4">2</tspan></text>
<line x1="436.4" y1="1062.0" x2="436.4" y2="1063.6" stroke="#8a8a8a" stroke-width="0.7"/>
<text x="454.2" y="1068.3" font-size="3.6" text-anchor="middle" fill="#666">10<tspan dy="-1.3" font-size="2.4">3</tspan></text>
<line x1="454.2" y1="1062.0" x2="454.2" y2="1063.6" stroke="#8a8a8a" stroke-width="0.7"/>
<text x="472.0" y="1068.3" font-size="3.6" text-anchor="middle" fill="#666">10<tspan dy="-1.3" font-size="2.4">4</tspan></text>
<line x1="472.0" y1="1062.0" x2="472.0" y2="1063.6" stroke="#8a8a8a" stroke-width="0.7"/>
</g>
<g>
<path d="M56.50,1148.00 L86.12,1148.00 L87.83,1144.44 L89.18,1140.60 L90.32,1136.61 L91.46,1131.41 L93.03,1121.37 L93.88,1119.52 L94.88,1115.96 L96.09,1100.65 L97.63,1084.49 L98.51,1093.89 L99.62,1099.87 L100.79,1092.46 L101.93,1081.43 L102.99,1096.74 L104.20,1107.56 L105.27,1108.84 L106.53,1109.84 L107.76,1116.67 L109.12,1123.79 L110.26,1125.93 L111.44,1127.57 L112.75,1130.20 L114.51,1132.34 L115.95,1133.76 L117.59,1135.18 L119.16,1138.74 L120.58,1142.30 L122.93,1146.58 L124.14,1148.00 L127.70,1148.00 Z" fill="#9b9b9b" stroke="none"/>
<rect x="56.5" y="1076.8" width="71.2" height="71.2" fill="none" stroke="#a0a0a0" stroke-width="0.7"/>
<line x1="56.5" y1="1078.8" x2="56.5" y2="1148.0" stroke="#999" stroke-width="0.9" stroke-dasharray="1.6 1.1"/>
<path d="M56.50,1147.15 L60.06,1147.14 L63.62,1147.14 L67.18,1147.14 L70.74,1147.14 L74.30,1147.14 L77.86,1147.14 L81.42,1147.14 L84.98,1147.13 L88.54,1147.13 L92.10,1147.12 L95.66,1147.10 L99.22,1147.08 L102.78,1147.04 L106.34,1146.99 L109.90,1146.90 L113.46,1146.68 L113.82,1146.58 L113.99,1146.52 L114.17,1146.43 L114.35,1146.33 L114.53,1146.20 L114.71,1146.05 L114.88,1145.86 L115.06,1145.64 L115.24,1145.37 L115.42,1145.05 L115.60,1144.67 L115.77,1144.21 L115.95,1143.65 L116.13,1142.96 L116.31,1142.11 L116.49,1141.03 L116.66,1139.65 L116.84,1137.86 L117.02,1135.57 L117.20,1132.65 L117.38,1129.02 L117.55,1124.62 L117.73,1119.45 L117.91,1113.60 L118.09,1107.29 L118.27,1100.84 L118.44,1094.63 L118.62,1089.14 L118.80,1084.81 L118.98,1082.04 L119.16,1081.07 L119.33,1081.38 L119.51,1084.21 L119.69,1088.58 L119.87,1094.12 L120.05,1100.37 L120.22,1106.87 L120.40,1113.21 L120.58,1119.09 L120.76,1124.30 L120.94,1128.74 L121.11,1132.40 L121.29,1135.34 L121.47,1137.66 L121.65,1139.47 L121.83,1140.88 L122.00,1141.98 L122.18,1142.86 L122.36,1143.56 L122.54,1144.13 L122.72,1144.61 L122.89,1145.01 L123.07,1145.35 L123.25,1145.63 L123.43,1145.87 L123.61,1146.06 L123.78,1146.23 L123.96,1146.37 L124.14,1146.48 L124.32,1146.57 L124.50,1146.65 L127.70,1147.02" fill="none" stroke="#1c1c1c" stroke-width="1.2" stroke-linejoin="round"/>
<line x1="56.5" y1="1147.8" x2="127.7" y2="1147.8" stroke="#222" stroke-width="0.9"/>
<text x="54.2" y="1080.9" font-size="3.5" text-anchor="end" fill="#6a6a6a">100</text>
<line x1="55.1" y1="1080.3" x2="56.5" y2="1080.3" stroke="#888" stroke-width="0.7"/>
<text x="54.2" y="1094.5" font-size="3.5" text-anchor="end" fill="#6a6a6a">80</text>
<line x1="55.1" y1="1093.9" x2="56.5" y2="1093.9" stroke="#888" stroke-width="0.7"/>
<text x="54.2" y="1108.1" font-size="3.5" text-anchor="end" fill="#6a6a6a">60</text>
<line x1="55.1" y1="1107.5" x2="56.5" y2="1107.5" stroke="#888" stroke-width="0.7"/>
<text x="54.2" y="1121.7" font-size="3.5" text-anchor="end" fill="#6a6a6a">40</text>
<line x1="55.1" y1="1121.1" x2="56.5" y2="1121.1" stroke="#888" stroke-width="0.7"/>
<text x="54.2" y="1135.3" font-size="3.5" text-anchor="end" fill="#6a6a6a">20</text>
<line x1="55.1" y1="1134.7" x2="56.5" y2="1134.7" stroke="#888" stroke-width="0.7"/>
<text x="54.2" y="1148.9" font-size="3.5" text-anchor="end" fill="#6a6a6a">0</text>
<line x1="55.1" y1="1148.3" x2="56.5" y2="1148.3" stroke="#888" stroke-width="0.7"/>
<text x="56.5" y="1154.3" font-size="3.6" text-anchor="middle" fill="#666">10<tspan dy="-1.3" font-size="2.4">0</tspan></text>
<line x1="56.5" y1="1148.0" x2="56.5" y2="1149.6" stroke="#8a8a8a" stroke-width="0.7"/>
<text x="74.3" y="1154.3" font-size="3.6" text-anchor="middle" fill="#666">10<tspan dy="-1.3" font-size="2.4">1</tspan></text>
<line x1="74.3" y1="1148.0" x2="74.3" y2="1149.6" stroke="#8a8a8a" stroke-width="0.7"/>
<text x="92.1" y="1154.3" font-size="3.6" text-anchor="middle" fill="#666">10<tspan dy="-1.3" font-size="2.4">2</tspan></text>
<line x1="92.1" y1="1148.0" x2="92.1" y2="1149.6" stroke="#8a8a8a" stroke-width="0.7"/>
<text x="109.9" y="1154.3" font-size="3.6" text-anchor="middle" fill="#666">10<tspan dy="-1.3" font-size="2.4">3</tspan></text>
<line x1="109.9" y1="1148.0" x2="109.9" y2="1149.6" stroke="#8a8a8a" stroke-width="0.7"/>
<text x="127.7" y="1154.3" font-size="3.6" text-anchor="middle" fill="#666">10<tspan dy="-1.3" font-size="2.4">4</tspan></text>
<line x1="127.7" y1="1148.0" x2="127.7" y2="1149.6" stroke="#8a8a8a" stroke-width="0.7"/>
</g>
<g>
<path d="M142.70,1148.00 L170.47,1148.00 L171.89,1144.44 L173.60,1139.10 L175.10,1133.76 L176.66,1126.78 L177.94,1120.94 L179.30,1115.25 L180.29,1113.82 L181.29,1110.62 L182.43,1101.01 L183.60,1092.96 L184.49,1096.74 L185.42,1099.87 L186.63,1091.04 L187.77,1081.43 L188.98,1093.89 L190.55,1102.93 L191.69,1101.72 L192.82,1099.87 L193.96,1108.84 L195.46,1117.53 L196.46,1116.67 L197.45,1114.54 L198.59,1120.94 L200.02,1126.61 L200.06,1126.78 L200.23,1126.70 L200.44,1126.60 L200.66,1126.50 L200.87,1126.40 L201.08,1126.30 L201.30,1126.20 L201.51,1126.10 L201.72,1126.00 L201.94,1126.09 L202.15,1126.18 L202.37,1126.27 L202.58,1126.37 L202.79,1126.46 L203.01,1126.55 L203.22,1126.64 L203.43,1129.84 L203.65,1126.00 L203.86,1119.96 L204.07,1113.02 L204.29,1105.50 L204.50,1097.93 L204.64,1093.18 L204.72,1090.97 L204.93,1085.33 L205.14,1081.64 L205.36,1080.36 L205.57,1081.64 L205.78,1085.33 L206.00,1090.97 L206.21,1097.93 L206.42,1105.50 L206.64,1113.02 L206.85,1119.96 L207.06,1126.00 L207.28,1131.00 L207.49,1134.96 L207.71,1138.01 L207.92,1140.31 L208.13,1142.03 L208.35,1143.32 L208.56,1144.30 L208.77,1145.06 L208.99,1145.66 L209.20,1146.15 L209.41,1146.54 L209.63,1146.86 L209.84,1147.12 L210.06,1147.33 L210.27,1147.49 L210.48,1147.62 L210.70,1147.72 L213.90,1148.00 Z" fill="#9b9b9b" stroke="none"/>
<rect x="142.7" y="1076.8" width="71.2" height="71.2" fill="none" stroke="#a0a0a0" stroke-width="0.7"/>
<line x1="142.7" y1="1078.8" x2="142.7" y2="1148.0" stroke="#999" stroke-width="0.9" stroke-dasharray="1.6 1.1"/>
<path d="M142.70,1147.15 L146.26,1147.14 L149.82,1147.14 L153.38,1147.14 L156.94,1147.14 L160.50,1147.14 L164.06,1147.14 L167.62,1147.14 L171.18,1147.13 L174.74,1147.13 L178.30,1147.12 L181.86,1147.10 L185.42,1147.08 L188.98,1147.04 L192.54,1146.99 L196.10,1146.90 L199.66,1146.68 L200.02,1146.58 L200.19,1146.51 L200.37,1146.43 L200.55,1146.32 L200.73,1146.19 L200.91,1146.04 L201.08,1145.84 L201.26,1145.62 L201.44,1145.34 L201.62,1145.01 L201.80,1144.62 L201.97,1144.15 L202.15,1143.58 L202.33,1142.88 L202.51,1142.01 L202.69,1140.91 L202.86,1139.49 L203.04,1137.67 L203.22,1135.33 L203.40,1132.35 L203.58,1128.64 L203.75,1124.14 L203.93,1118.86 L204.11,1112.89 L204.29,1106.44 L204.47,1099.84 L204.64,1093.50 L204.82,1087.89 L205.00,1083.47 L205.18,1080.63 L205.36,1079.65 L205.53,1079.98 L205.71,1082.86 L205.89,1087.33 L206.07,1092.99 L206.25,1099.37 L206.42,1106.01 L206.60,1112.50 L206.78,1118.50 L206.96,1123.82 L207.14,1128.36 L207.31,1132.10 L207.49,1135.10 L207.67,1137.47 L207.85,1139.32 L208.03,1140.76 L208.20,1141.88 L208.38,1142.78 L208.56,1143.49 L208.74,1144.08 L208.92,1144.57 L209.09,1144.98 L209.27,1145.32 L209.45,1145.61 L209.63,1145.85 L209.81,1146.05 L209.98,1146.22 L210.16,1146.36 L210.34,1146.47 L210.52,1146.57 L210.70,1146.64 L213.90,1147.02" fill="none" stroke="#1c1c1c" stroke-width="1.2" stroke-linejoin="round"/>
<line x1="142.7" y1="1147.8" x2="213.9" y2="1147.8" stroke="#222" stroke-width="0.9"/>
<text x="140.4" y="1080.9" font-size="3.5" text-anchor="end" fill="#6a6a6a">100</text>
<line x1="141.3" y1="1080.3" x2="142.7" y2="1080.3" stroke="#888" stroke-width="0.7"/>
<text x="140.4" y="1094.5" font-size="3.5" text-anchor="end" fill="#6a6a6a">80</text>
<line x1="141.3" y1="1093.9" x2="142.7" y2="1093.9" stroke="#888" stroke-width="0.7"/>
<text x="140.4" y="1108.1" font-size="3.5" text-anchor="end" fill="#6a6a6a">60</text>
<line x1="141.3" y1="1107.5" x2="142.7" y2="1107.5" stroke="#888" stroke-width="0.7"/>
<text x="140.4" y="1121.7" font-size="3.5" text-anchor="end" fill="#6a6a6a">40</text>
<line x1="141.3" y1="1121.1" x2="142.7" y2="1121.1" stroke="#888" stroke-width="0.7"/>
<text x="140.4" y="1135.3" font-size="3.5" text-anchor="end" fill="#6a6a6a">20</text>
<line x1="141.3" y1="1134.7" x2="142.7" y2="1134.7" stroke="#888" stroke-width="0.7"/>
<text x="140.4" y="1148.9" font-size="3.5" text-anchor="end" fill="#6a6a6a">0</text>
<line x1="141.3" y1="1148.3" x2="142.7" y2="1148.3" stroke="#888" stroke-width="0.7"/>
<text x="142.7" y="1154.3" font-size="3.6" text-anchor="middle" fill="#666">10<tspan dy="-1.3" font-size="2.4">0</tspan></text>
<line x1="142.7" y1="1148.0" x2="142.7" y2="1149.6" stroke="#8a8a8a" stroke-width="0.7"/>
<text x="160.5" y="1154.3" font-size="3.6" text-anchor="middle" fill="#666">10<tspan dy="-1.3" font-size="2.4">1</tspan></text>
<line x1="160.5" y1="1148.0" x2="160.5" y2="1149.6" stroke="#8a8a8a" stroke-width="0.7"/>
<text x="178.3" y="1154.3" font-size="3.6" text-anchor="middle" fill="#666">10<tspan dy="-1.3" font-size="2.4">2</tspan></text>
<line x1="178.3" y1="1148.0" x2="178.3" y2="1149.6" stroke="#8a8a8a" stroke-width="0.7"/>
<text x="196.1" y="1154.3" font-size="3.6" text-anchor="middle" fill="#666">10<tspan dy="-1.3" font-size="2.4">3</tspan></text>
<line x1="196.1" y1="1148.0" x2="196.1" y2="1149.6" stroke="#8a8a8a" stroke-width="0.7"/>
<text x="213.9" y="1154.3" font-size="3.6" text-anchor="middle" fill="#666">10<tspan dy="-1.3" font-size="2.4">4</tspan></text>
<line x1="213.9" y1="1148.0" x2="213.9" y2="1149.6" stroke="#8a8a8a" stroke-width="0.7"/>
</g>
<g>
<path d="M228.70,1148.00 L258.82,1148.00 L260.38,1145.15 L261.91,1142.30 L263.02,1138.74 L264.23,1134.47 L265.23,1130.91 L266.22,1128.35 L267.15,1126.64 L268.07,1120.94 L268.93,1108.13 L269.92,1094.60 L270.85,1102.43 L271.92,1107.56 L272.99,1096.74 L274.20,1080.64 L275.34,1096.74 L276.83,1107.56 L277.97,1105.28 L279.11,1101.44 L280.32,1110.98 L281.60,1119.09 L282.67,1118.81 L283.74,1118.31 L284.95,1125.22 L286.02,1131.38 L286.06,1131.62 L286.23,1131.68 L286.44,1131.76 L286.66,1131.83 L286.87,1131.91 L287.08,1131.99 L287.30,1132.06 L287.51,1132.14 L287.72,1132.21 L287.94,1132.29 L288.08,1132.34 L288.15,1132.34 L288.37,1132.34 L288.58,1132.34 L288.79,1132.34 L289.01,1132.34 L289.22,1132.34 L289.43,1131.00 L289.65,1126.00 L289.86,1119.96 L290.07,1113.02 L290.29,1105.50 L290.50,1097.93 L290.64,1093.18 L290.72,1090.97 L290.93,1085.33 L291.14,1081.64 L291.36,1080.36 L291.57,1081.64 L291.78,1085.33 L292.00,1090.97 L292.21,1097.93 L292.42,1105.50 L292.64,1113.02 L292.85,1119.96 L293.06,1126.00 L293.28,1131.00 L293.49,1134.96 L293.71,1138.01 L293.92,1140.31 L294.13,1142.03 L294.35,1143.32 L294.56,1144.30 L294.77,1145.06 L294.99,1145.66 L295.20,1146.15 L295.41,1146.54 L295.63,1146.86 L295.84,1147.12 L296.06,1147.33 L296.27,1147.49 L296.48,1147.62 L296.70,1147.72 L299.90,1148.00 Z" fill="#9b9b9b" stroke="none"/>
<rect x="228.7" y="1076.8" width="71.2" height="71.2" fill="none" stroke="#a0a0a0" stroke-width="0.7"/>
<line x1="228.7" y1="1078.8" x2="228.7" y2="1148.0" stroke="#999" stroke-width="0.9" stroke-dasharray="1.6 1.1"/>
<path d="M228.70,1147.15 L232.26,1147.14 L235.82,1147.14 L239.38,1147.14 L242.94,1147.14 L246.50,1147.14 L250.06,1147.14 L253.62,1147.14 L257.18,1147.13 L260.74,1147.13 L264.30,1147.12 L267.86,1147.10 L271.42,1147.08 L274.98,1147.04 L278.54,1146.99 L282.10,1146.90 L285.66,1146.68 L286.02,1146.58 L286.19,1146.51 L286.37,1146.43 L286.55,1146.32 L286.73,1146.19 L286.91,1146.04 L287.08,1145.84 L287.26,1145.62 L287.44,1145.34 L287.62,1145.01 L287.80,1144.62 L287.97,1144.15 L288.15,1143.58 L288.33,1142.88 L288.51,1142.01 L288.69,1140.91 L288.86,1139.49 L289.04,1137.67 L289.22,1135.33 L289.40,1132.35 L289.58,1128.64 L289.75,1124.14 L289.93,1118.86 L290.11,1112.89 L290.29,1106.44 L290.47,1099.84 L290.64,1093.50 L290.82,1087.89 L291.00,1083.47 L291.18,1080.63 L291.36,1079.65 L291.53,1079.98 L291.71,1082.86 L291.89,1087.33 L292.07,1092.99 L292.25,1099.37 L292.42,1106.01 L292.60,1112.50 L292.78,1118.50 L292.96,1123.82 L293.14,1128.36 L293.31,1132.10 L293.49,1135.10 L293.67,1137.47 L293.85,1139.32 L294.03,1140.76 L294.20,1141.88 L294.38,1142.78 L294.56,1143.49 L294.74,1144.08 L294.92,1144.57 L295.09,1144.98 L295.27,1145.32 L295.45,1145.61 L295.63,1145.85 L295.81,1146.05 L295.98,1146.22 L296.16,1146.36 L296.34,1146.47 L296.52,1146.57 L296.70,1146.64 L299.90,1147.02" fill="none" stroke="#1c1c1c" stroke-width="1.2" stroke-linejoin="round"/>
<line x1="228.7" y1="1147.8" x2="299.9" y2="1147.8" stroke="#222" stroke-width="0.9"/>
<text x="226.4" y="1080.9" font-size="3.5" text-anchor="end" fill="#6a6a6a">100</text>
<line x1="227.3" y1="1080.3" x2="228.7" y2="1080.3" stroke="#888" stroke-width="0.7"/>
<text x="226.4" y="1094.5" font-size="3.5" text-anchor="end" fill="#6a6a6a">80</text>
<line x1="227.3" y1="1093.9" x2="228.7" y2="1093.9" stroke="#888" stroke-width="0.7"/>
<text x="226.4" y="1108.1" font-size="3.5" text-anchor="end" fill="#6a6a6a">60</text>
<line x1="227.3" y1="1107.5" x2="228.7" y2="1107.5" stroke="#888" stroke-width="0.7"/>
<text x="226.4" y="1121.7" font-size="3.5" text-anchor="end" fill="#6a6a6a">40</text>
<line x1="227.3" y1="1121.1" x2="228.7" y2="1121.1" stroke="#888" stroke-width="0.7"/>
<text x="226.4" y="1135.3" font-size="3.5" text-anchor="end" fill="#6a6a6a">20</text>
<line x1="227.3" y1="1134.7" x2="228.7" y2="1134.7" stroke="#888" stroke-width="0.7"/>
<text x="226.4" y="1148.9" font-size="3.5" text-anchor="end" fill="#6a6a6a">0</text>
<line x1="227.3" y1="1148.3" x2="228.7" y2="1148.3" stroke="#888" stroke-width="0.7"/>
<text x="228.7" y="1154.3" font-size="3.6" text-anchor="middle" fill="#666">10<tspan dy="-1.3" font-size="2.4">0</tspan></text>
<line x1="228.7" y1="1148.0" x2="228.7" y2="1149.6" stroke="#8a8a8a" stroke-width="0.7"/>
<text x="246.5" y="1154.3" font-size="3.6" text-anchor="middle" fill="#666">10<tspan dy="-1.3" font-size="2.4">1</tspan></text>
<line x1="246.5" y1="1148.0" x2="246.5" y2="1149.6" stroke="#8a8a8a" stroke-width="0.7"/>
<text x="264.3" y="1154.3" font-size="3.6" text-anchor="middle" fill="#666">10<tspan dy="-1.3" font-size="2.4">2</tspan></text>
<line x1="264.3" y1="1148.0" x2="264.3" y2="1149.6" stroke="#8a8a8a" stroke-width="0.7"/>
<text x="282.1" y="1154.3" font-size="3.6" text-anchor="middle" fill="#666">10<tspan dy="-1.3" font-size="2.4">3</tspan></text>
<line x1="282.1" y1="1148.0" x2="282.1" y2="1149.6" stroke="#8a8a8a" stroke-width="0.7"/>
<text x="299.9" y="1154.3" font-size="3.6" text-anchor="middle" fill="#666">10<tspan dy="-1.3" font-size="2.4">4</tspan></text>
<line x1="299.9" y1="1148.0" x2="299.9" y2="1149.6" stroke="#8a8a8a" stroke-width="0.7"/>
</g>
<g>
<path d="M314.70,1148.00 L344.07,1148.00 L345.67,1145.15 L347.17,1142.30 L348.31,1138.74 L349.45,1135.18 L350.30,1131.62 L351.30,1128.35 L352.29,1126.64 L353.29,1123.79 L354.50,1108.34 L355.92,1094.60 L356.85,1101.01 L357.92,1105.99 L358.99,1095.31 L360.20,1080.64 L361.34,1095.31 L362.83,1104.57 L363.97,1103.86 L365.11,1101.44 L366.32,1109.55 L367.60,1116.81 L368.67,1118.10 L369.74,1119.09 L370.73,1123.08 L371.66,1126.78 L372.02,1127.93 L372.23,1128.62 L372.44,1129.31 L372.66,1129.99 L372.87,1130.68 L372.94,1130.91 L373.08,1131.36 L373.30,1132.02 L373.51,1132.69 L373.72,1133.36 L373.94,1134.03 L374.08,1134.47 L374.15,1134.52 L374.37,1134.65 L374.58,1134.78 L374.79,1134.92 L375.01,1135.05 L375.22,1134.96 L375.43,1131.00 L375.65,1126.00 L375.86,1119.96 L376.07,1113.02 L376.29,1105.50 L376.50,1097.93 L376.64,1093.18 L376.72,1090.97 L376.93,1085.33 L377.14,1081.64 L377.36,1080.36 L377.57,1081.64 L377.78,1085.33 L378.00,1090.97 L378.21,1097.93 L378.42,1105.50 L378.64,1113.02 L378.85,1119.96 L379.06,1126.00 L379.28,1131.00 L379.49,1134.96 L379.71,1138.01 L379.92,1140.31 L380.13,1142.03 L380.35,1143.32 L380.56,1144.30 L380.77,1145.06 L380.99,1145.66 L381.20,1146.15 L381.41,1146.54 L381.63,1146.86 L381.84,1147.12 L382.06,1147.33 L382.27,1147.49 L382.48,1147.62 L382.70,1147.72 L385.90,1148.00 Z" fill="#9b9b9b" stroke="none"/>
<rect x="314.7" y="1076.8" width="71.2" height="71.2" fill="none" stroke="#a0a0a0" stroke-width="0.7"/>
<line x1="314.7" y1="1078.8" x2="314.7" y2="1148.0" stroke="#999" stroke-width="0.9" stroke-dasharray="1.6 1.1"/>
<path d="M314.70,1147.15 L318.26,1147.14 L321.82,1147.14 L325.38,1147.14 L328.94,1147.14 L332.50,1147.14 L336.06,1147.14 L339.62,1147.14 L343.18,1147.13 L346.74,1147.13 L350.30,1147.12 L353.86,1147.10 L357.42,1147.08 L360.98,1147.04 L364.54,1146.99 L368.10,1146.90 L371.66,1146.68 L372.02,1146.58 L372.19,1146.51 L372.37,1146.43 L372.55,1146.32 L372.73,1146.19 L372.91,1146.04 L373.08,1145.84 L373.26,1145.62 L373.44,1145.34 L373.62,1145.01 L373.80,1144.62 L373.97,1144.15 L374.15,1143.58 L374.33,1142.88 L374.51,1142.01 L374.69,1140.91 L374.86,1139.49 L375.04,1137.67 L375.22,1135.33 L375.40,1132.35 L375.58,1128.64 L375.75,1124.14 L375.93,1118.86 L376.11,1112.89 L376.29,1106.44 L376.47,1099.84 L376.64,1093.50 L376.82,1087.89 L377.00,1083.47 L377.18,1080.63 L377.36,1079.65 L377.53,1079.98 L377.71,1082.86 L377.89,1087.33 L378.07,1092.99 L378.25,1099.37 L378.42,1106.01 L378.60,1112.50 L378.78,1118.50 L378.96,1123.82 L379.14,1128.36 L379.31,1132.10 L379.49,1135.10 L379.67,1137.47 L379.85,1139.32 L380.03,1140.76 L380.20,1141.88 L380.38,1142.78 L380.56,1143.49 L380.74,1144.08 L380.92,1144.57 L381.09,1144.98 L381.27,1145.32 L381.45,1145.61 L381.63,1145.85 L381.81,1146.05 L381.98,1146.22 L382.16,1146.36 L382.34,1146.47 L382.52,1146.57 L382.70,1146.64 L385.90,1147.02" fill="none" stroke="#1c1c1c" stroke-width="1.2" stroke-linejoin="round"/>
<line x1="314.7" y1="1147.8" x2="385.9" y2="1147.8" stroke="#222" stroke-width="0.9"/>
<text x="312.4" y="1080.9" font-size="3.5" text-anchor="end" fill="#6a6a6a">100</text>
<line x1="313.3" y1="1080.3" x2="314.7" y2="1080.3" stroke="#888" stroke-width="0.7"/>
<text x="312.4" y="1094.5" font-size="3.5" text-anchor="end" fill="#6a6a6a">80</text>
<line x1="313.3" y1="1093.9" x2="314.7" y2="1093.9" stroke="#888" stroke-width="0.7"/>
<text x="312.4" y="1108.1" font-size="3.5" text-anchor="end" fill="#6a6a6a">60</text>
<line x1="313.3" y1="1107.5" x2="314.7" y2="1107.5" stroke="#888" stroke-width="0.7"/>
<text x="312.4" y="1121.7" font-size="3.5" text-anchor="end" fill="#6a6a6a">40</text>
<line x1="313.3" y1="1121.1" x2="314.7" y2="1121.1" stroke="#888" stroke-width="0.7"/>
<text x="312.4" y="1135.3" font-size="3.5" text-anchor="end" fill="#6a6a6a">20</text>
<line x1="313.3" y1="1134.7" x2="314.7" y2="1134.7" stroke="#888" stroke-width="0.7"/>
<text x="312.4" y="1148.9" font-size="3.5" text-anchor="end" fill="#6a6a6a">0</text>
<line x1="313.3" y1="1148.3" x2="314.7" y2="1148.3" stroke="#888" stroke-width="0.7"/>
<text x="314.7" y="1154.3" font-size="3.6" text-anchor="middle" fill="#666">10<tspan dy="-1.3" font-size="2.4">0</tspan></text>
<line x1="314.7" y1="1148.0" x2="314.7" y2="1149.6" stroke="#8a8a8a" stroke-width="0.7"/>
<text x="332.5" y="1154.3" font-size="3.6" text-anchor="middle" fill="#666">10<tspan dy="-1.3" font-size="2.4">1</tspan></text>
<line x1="332.5" y1="1148.0" x2="332.5" y2="1149.6" stroke="#8a8a8a" stroke-width="0.7"/>
<text x="350.3" y="1154.3" font-size="3.6" text-anchor="middle" fill="#666">10<tspan dy="-1.3" font-size="2.4">2</tspan></text>
<line x1="350.3" y1="1148.0" x2="350.3" y2="1149.6" stroke="#8a8a8a" stroke-width="0.7"/>
<text x="368.1" y="1154.3" font-size="3.6" text-anchor="middle" fill="#666">10<tspan dy="-1.3" font-size="2.4">3</tspan></text>
<line x1="368.1" y1="1148.0" x2="368.1" y2="1149.6" stroke="#8a8a8a" stroke-width="0.7"/>
<text x="385.9" y="1154.3" font-size="3.6" text-anchor="middle" fill="#666">10<tspan dy="-1.3" font-size="2.4">4</tspan></text>
<line x1="385.9" y1="1148.0" x2="385.9" y2="1149.6" stroke="#8a8a8a" stroke-width="0.7"/>
</g>
<g>
<path d="M400.80,1148.00 L431.63,1148.00 L432.98,1145.15 L434.41,1142.30 L435.55,1138.74 L436.68,1134.47 L437.61,1131.62 L438.54,1129.06 L439.46,1126.64 L440.39,1123.79 L441.17,1110.98 L442.10,1096.74 L443.02,1103.86 L444.09,1109.12 L445.09,1096.74 L446.26,1080.64 L447.44,1096.74 L449.04,1107.56 L450.07,1105.28 L451.21,1101.44 L452.42,1110.26 L453.63,1117.53 L454.77,1117.38 L455.84,1116.81 L456.83,1124.50 L457.76,1131.41 L458.12,1131.77 L458.33,1131.98 L458.54,1132.19 L458.76,1132.41 L458.97,1132.62 L459.18,1132.83 L459.40,1133.05 L459.61,1133.26 L459.82,1133.48 L460.04,1133.69 L460.11,1133.76 L460.25,1133.76 L460.47,1133.76 L460.68,1133.76 L460.89,1133.76 L461.11,1133.76 L461.32,1133.76 L461.53,1131.00 L461.75,1126.00 L461.96,1119.96 L462.17,1113.02 L462.39,1105.50 L462.60,1097.93 L462.74,1093.18 L462.82,1090.97 L463.03,1085.33 L463.24,1081.64 L463.46,1080.36 L463.67,1081.64 L463.88,1085.33 L464.10,1090.97 L464.31,1097.93 L464.52,1105.50 L464.74,1113.02 L464.95,1119.96 L465.16,1126.00 L465.38,1131.00 L465.59,1134.96 L465.81,1138.01 L466.02,1140.31 L466.23,1142.03 L466.45,1143.32 L466.66,1144.30 L466.87,1145.06 L467.09,1145.66 L467.30,1146.15 L467.51,1146.54 L467.73,1146.86 L467.94,1147.12 L468.16,1147.33 L468.37,1147.49 L468.58,1147.62 L468.80,1147.72 L472.00,1148.00 Z" fill="#9b9b9b" stroke="none"/>
<rect x="400.8" y="1076.8" width="71.2" height="71.2" fill="none" stroke="#a0a0a0" stroke-width="0.7"/>
<line x1="400.8" y1="1078.8" x2="400.8" y2="1148.0" stroke="#999" stroke-width="0.9" stroke-dasharray="1.6 1.1"/>
<path d="M400.80,1147.15 L404.36,1147.14 L407.92,1147.14 L411.48,1147.14 L415.04,1147.14 L418.60,1147.14 L422.16,1147.14 L425.72,1147.14 L429.28,1147.13 L432.84,1147.13 L436.40,1147.12 L439.96,1147.10 L443.52,1147.08 L447.08,1147.04 L450.64,1146.99 L454.20,1146.90 L457.76,1146.68 L458.12,1146.58 L458.29,1146.51 L458.47,1146.43 L458.65,1146.32 L458.83,1146.19 L459.01,1146.04 L459.18,1145.84 L459.36,1145.62 L459.54,1145.34 L459.72,1145.01 L459.90,1144.62 L460.07,1144.15 L460.25,1143.58 L460.43,1142.88 L460.61,1142.01 L460.79,1140.91 L460.96,1139.49 L461.14,1137.67 L461.32,1135.33 L461.50,1132.35 L461.68,1128.64 L461.85,1124.14 L462.03,1118.86 L462.21,1112.89 L462.39,1106.44 L462.57,1099.84 L462.74,1093.50 L462.92,1087.89 L463.10,1083.47 L463.28,1080.63 L463.46,1079.65 L463.63,1079.98 L463.81,1082.86 L463.99,1087.33 L464.17,1092.99 L464.35,1099.37 L464.52,1106.01 L464.70,1112.50 L464.88,1118.50 L465.06,1123.82 L465.24,1128.36 L465.41,1132.10 L465.59,1135.10 L465.77,1137.47 L465.95,1139.32 L466.13,1140.76 L466.30,1141.88 L466.48,1142.78 L466.66,1143.49 L466.84,1144.08 L467.02,1144.57 L467.19,1144.98 L467.37,1145.32 L467.55,1145.61 L467.73,1145.85 L467.91,1146.05 L468.08,1146.22 L468.26,1146.36 L468.44,1146.47 L468.62,1146.57 L468.80,1146.64 L472.00,1147.02" fill="none" stroke="#1c1c1c" stroke-width="1.2" stroke-linejoin="round"/>
<line x1="400.8" y1="1147.8" x2="472.0" y2="1147.8" stroke="#222" stroke-width="0.9"/>
<text x="398.5" y="1080.9" font-size="3.5" text-anchor="end" fill="#6a6a6a">100</text>
<line x1="399.4" y1="1080.3" x2="400.8" y2="1080.3" stroke="#888" stroke-width="0.7"/>
<text x="398.5" y="1094.5" font-size="3.5" text-anchor="end" fill="#6a6a6a">80</text>
<line x1="399.4" y1="1093.9" x2="400.8" y2="1093.9" stroke="#888" stroke-width="0.7"/>
<text x="398.5" y="1108.1" font-size="3.5" text-anchor="end" fill="#6a6a6a">60</text>
<line x1="399.4" y1="1107.5" x2="400.8" y2="1107.5" stroke="#888" stroke-width="0.7"/>
<text x="398.5" y="1121.7" font-size="3.5" text-anchor="end" fill="#6a6a6a">40</text>
<line x1="399.4" y1="1121.1" x2="400.8" y2="1121.1" stroke="#888" stroke-width="0.7"/>
<text x="398.5" y="1135.3" font-size="3.5" text-anchor="end" fill="#6a6a6a">20</text>
<line x1="399.4" y1="1134.7" x2="400.8" y2="1134.7" stroke="#888" stroke-width="0.7"/>
<text x="398.5" y="1148.9" font-size="3.5" text-anchor="end" fill="#6a6a6a">0</text>
<line x1="399.4" y1="1148.3" x2="400.8" y2="1148.3" stroke="#888" stroke-width="0.7"/>
<text x="400.8" y="1154.3" font-size="3.6" text-anchor="middle" fill="#666">10<tspan dy="-1.3" font-size="2.4">0</tspan></text>
<line x1="400.8" y1="1148.0" x2="400.8" y2="1149.6" stroke="#8a8a8a" stroke-width="0.7"/>
<text x="418.6" y="1154.3" font-size="3.6" text-anchor="middle" fill="#666">10<tspan dy="-1.3" font-size="2.4">1</tspan></text>
<line x1="418.6" y1="1148.0" x2="418.6" y2="1149.6" stroke="#8a8a8a" stroke-width="0.7"/>
<text x="436.4" y="1154.3" font-size="3.6" text-anchor="middle" fill="#666">10<tspan dy="-1.3" font-size="2.4">2</tspan></text>
<line x1="436.4" y1="1148.0" x2="436.4" y2="1149.6" stroke="#8a8a8a" stroke-width="0.7"/>
<text x="454.2" y="1154.3" font-size="3.6" text-anchor="middle" fill="#666">10<tspan dy="-1.3" font-size="2.4">3</tspan></text>
<line x1="454.2" y1="1148.0" x2="454.2" y2="1149.6" stroke="#8a8a8a" stroke-width="0.7"/>
<text x="472.0" y="1154.3" font-size="3.6" text-anchor="middle" fill="#666">10<tspan dy="-1.3" font-size="2.4">4</tspan></text>
<line x1="472.0" y1="1148.0" x2="472.0" y2="1149.6" stroke="#8a8a8a" stroke-width="0.7"/>
</g>
<text x="1.7" y="25" font-size="25" font-weight="bold" text-anchor="start" fill="#111" stroke="#111" stroke-width="0.2" >A</text>
<text x="92.5" y="64.4" font-size="19" font-weight="normal" text-anchor="middle" fill="#111" stroke="#111" stroke-width="0.35" >T cells</text>
<text x="92.3" y="86.8" font-size="19" font-weight="normal" text-anchor="middle" fill="#111" stroke="#111" stroke-width="0.35" >only</text>
<text x="221.4" y="45.5" font-size="26" font-weight="normal" text-anchor="middle" fill="#111" stroke="#111" stroke-width="0.35" >WT</text>
<line x1="142.7" y1="54" x2="299.6" y2="54" stroke="#444" stroke-width="1.4"/>
<line x1="314.8" y1="54" x2="472.6" y2="54" stroke="#444" stroke-width="1.4"/>
<text x="362.4" y="45.5" font-size="26" fill="#111" stroke="#111" stroke-width="0.3">Stat6<tspan dx="0.8" dy="-7.3" font-size="16" fill="#555" stroke="none">−/−</tspan></text>
<text x="178" y="86.8" font-size="20" font-weight="normal" text-anchor="middle" fill="#111" stroke="#111" stroke-width="0.35" >Control</text>
<text transform="translate(264.8,86.8) scale(0.94,1)" font-size="20" font-weight="normal" text-anchor="middle" fill="#111" stroke="#111" stroke-width="0.35" >+IL-4</text>
<text x="350.2" y="86.8" font-size="20" font-weight="normal" text-anchor="middle" fill="#111" stroke="#111" stroke-width="0.35" >Control</text>
<text transform="translate(436.1,86.8) scale(0.94,1)" font-size="20" font-weight="normal" text-anchor="middle" fill="#111" stroke="#111" stroke-width="0.35" >+IL-4</text>
<text x="477.3" y="135" font-size="21" font-weight="bold" text-anchor="start" fill="#111" stroke="#111" stroke-width="0.2" >CD4</text>
<text x="477.3" y="225" font-size="21" font-weight="bold" text-anchor="start" fill="#111" stroke="#111" stroke-width="0.2" >CD8</text>
<text transform="translate(39.2,170) rotate(-90)" font-size="19.25" text-anchor="middle" fill="#111" stroke="#111" stroke-width="0.3">Cell counts</text>
<text x="55.7" y="280.3" font-size="21.5" font-weight="normal" text-anchor="start" fill="#111" stroke="#111" stroke-width="0.35" >CFSE</text>
<line x1="132.5" y1="272.7" x2="450" y2="272.7" stroke="#111" stroke-width="2.7"/>
<path d="M461,272.7 L442,268.09999999999997 L446.5,272.7 L442,277.3 Z" fill="#111"/>
<text x="1.5" y="923.9" font-size="25" font-weight="bold" text-anchor="start" fill="#111" stroke="#111" stroke-width="0.2" >C</text>
<text x="92.5" y="963.4" font-size="19" font-weight="normal" text-anchor="middle" fill="#111" stroke="#111" stroke-width="0.35" >T cells</text>
<text x="94.8" y="986.2" font-size="19" font-weight="normal" text-anchor="middle" fill="#111" stroke="#111" stroke-width="0.35" >only</text>
<text x="221.4" y="944.8" font-size="26" font-weight="normal" text-anchor="middle" fill="#111" stroke="#111" stroke-width="0.35" >WT</text>
<line x1="142.7" y1="953" x2="299.6" y2="953" stroke="#444" stroke-width="1.4"/>
<line x1="314.8" y1="953" x2="472.6" y2="953" stroke="#444" stroke-width="1.4"/>
<text x="362.4" y="944.8" font-size="26" fill="#111" stroke="#111" stroke-width="0.3">Stat6<tspan dx="0.8" dy="-7.3" font-size="16" fill="#555" stroke="none">−/−</tspan></text>
<text x="178" y="985.8" font-size="20" font-weight="normal" text-anchor="middle" fill="#111" stroke="#111" stroke-width="0.35" >Control</text>
<text transform="translate(264.8,985.8) scale(0.94,1)" font-size="20" font-weight="normal" text-anchor="middle" fill="#111" stroke="#111" stroke-width="0.35" >+IL-4</text>
<text x="350.2" y="985.8" font-size="20" font-weight="normal" text-anchor="middle" fill="#111" stroke="#111" stroke-width="0.35" >Control</text>
<text transform="translate(436.1,985.8) scale(0.94,1)" font-size="20" font-weight="normal" text-anchor="middle" fill="#111" stroke="#111" stroke-width="0.35" >+IL-4</text>
<text x="477.3" y="1034" font-size="21" font-weight="bold" text-anchor="start" fill="#111" stroke="#111" stroke-width="0.2" >CD4</text>
<text x="477.3" y="1124" font-size="21" font-weight="bold" text-anchor="start" fill="#111" stroke="#111" stroke-width="0.2" >CD8</text>
<text transform="translate(39.2,1070) rotate(-90)" font-size="19.25" text-anchor="middle" fill="#111" stroke="#111" stroke-width="0.3">Cell counts</text>
<text x="55.7" y="1178.8" font-size="21.5" font-weight="normal" text-anchor="start" fill="#111" stroke="#111" stroke-width="0.35" >CFSE</text>
<line x1="132.5" y1="1170.8" x2="450" y2="1170.8" stroke="#111" stroke-width="2.7"/>
<path d="M461,1170.8 L442,1166.2 L446.5,1170.8 L442,1175.3999999999999 Z" fill="#111"/>
<text x="1.3" y="324.2" font-size="25" font-weight="bold" text-anchor="start" fill="#111" stroke="#111" stroke-width="0.2" >B</text>
<text x="147.7" y="346" font-size="25.5" font-weight="normal" text-anchor="middle" fill="#111" stroke="#111" stroke-width="0.35" >CD4</text>
<text x="309.6" y="346" font-size="25.5" font-weight="normal" text-anchor="middle" fill="#111" stroke="#111" stroke-width="0.35" >CD8</text>
<line x1="107.1" y1="387.9" x2="107.1" y2="382.0" stroke="#222" stroke-width="1.3"/>
<line x1="104.3" y1="382.0" x2="109.9" y2="382.0" stroke="#222" stroke-width="1.3"/>
<rect x="96.9" y="387.9" width="20.4" height="121.5" fill="#050505"/>
<line x1="127.4" y1="477.5" x2="127.4" y2="476.0" stroke="#222" stroke-width="1.3"/>
<line x1="124.6" y1="476.0" x2="130.2" y2="476.0" stroke="#222" stroke-width="1.3"/>
<rect x="117.7" y="478.1" width="19.3" height="31.3" fill="#cbcbcb" stroke="#1a1a1a" stroke-width="1.3"/>
<line x1="167.8" y1="389.2" x2="167.8" y2="385.2" stroke="#222" stroke-width="1.3"/>
<line x1="164.9" y1="385.2" x2="170.6" y2="385.2" stroke="#222" stroke-width="1.3"/>
<rect x="157.6" y="389.2" width="20.3" height="120.2" fill="#050505"/>
<line x1="188.2" y1="381.2" x2="188.2" y2="372.5" stroke="#222" stroke-width="1.3"/>
<line x1="185.3" y1="372.5" x2="191.0" y2="372.5" stroke="#222" stroke-width="1.3"/>
<rect x="178.3" y="381.8" width="19.5" height="127.6" fill="#cbcbcb" stroke="#1a1a1a" stroke-width="1.3"/>
<rect x="86.9" y="354.8" width="120.6" height="154.59999999999997" fill="none" stroke="#3a3a3a" stroke-width="1.5"/>
<line x1="84.5" y1="509.4" x2="86.9" y2="509.4" stroke="#444" stroke-width="1.2"/>
<text transform="translate(78.5,513.6) scale(0.87,1)" font-size="15" font-weight="normal" text-anchor="end" fill="#222" stroke="#222" stroke-width="0.35" >0</text>
<line x1="84.5" y1="483.6" x2="86.9" y2="483.6" stroke="#444" stroke-width="1.2"/>
<text transform="translate(78.5,487.8) scale(0.87,1)" font-size="15" font-weight="normal" text-anchor="end" fill="#222" stroke="#222" stroke-width="0.35" >10</text>
<line x1="84.5" y1="457.9" x2="86.9" y2="457.9" stroke="#444" stroke-width="1.2"/>
<text transform="translate(78.5,462.1) scale(0.87,1)" font-size="15" font-weight="normal" text-anchor="end" fill="#222" stroke="#222" stroke-width="0.35" >20</text>
<line x1="84.5" y1="432.1" x2="86.9" y2="432.1" stroke="#444" stroke-width="1.2"/>
<text transform="translate(78.5,436.3) scale(0.87,1)" font-size="15" font-weight="normal" text-anchor="end" fill="#222" stroke="#222" stroke-width="0.35" >30</text>
<line x1="84.5" y1="406.3" x2="86.9" y2="406.3" stroke="#444" stroke-width="1.2"/>
<text transform="translate(78.5,410.5) scale(0.87,1)" font-size="15" font-weight="normal" text-anchor="end" fill="#222" stroke="#222" stroke-width="0.35" >40</text>
<line x1="84.5" y1="380.6" x2="86.9" y2="380.6" stroke="#444" stroke-width="1.2"/>
<text transform="translate(78.5,384.8) scale(0.87,1)" font-size="15" font-weight="normal" text-anchor="end" fill="#222" stroke="#222" stroke-width="0.35" >50</text>
<line x1="84.5" y1="354.8" x2="86.9" y2="354.8" stroke="#444" stroke-width="1.2"/>
<text transform="translate(78.5,359.0) scale(0.87,1)" font-size="15" font-weight="normal" text-anchor="end" fill="#222" stroke="#222" stroke-width="0.35" >60</text>
<path d="M106.6,371.7 L106.6,365.8 L188.2,365.8 L188.2,371.7 M127.3,365.8 L127.3,384.7" fill="none" stroke="#222" stroke-width="1.65"/>
<text x="117.5" y="371.8" font-size="19.5" font-weight="normal" text-anchor="middle" fill="#111" stroke="#111" stroke-width="0.45" letter-spacing="0.4">**</text>
<text x="158" y="371.8" font-size="19.5" font-weight="normal" text-anchor="middle" fill="#111" stroke="#111" stroke-width="0.45" letter-spacing="0.4">**</text>
<line x1="269.8" y1="387.1" x2="269.8" y2="384.7" stroke="#222" stroke-width="1.3"/>
<line x1="267.0" y1="384.7" x2="272.6" y2="384.7" stroke="#222" stroke-width="1.3"/>
<rect x="259.6" y="387.1" width="20.4" height="122.3" fill="#050505"/>
<line x1="290.1" y1="447.0" x2="290.1" y2="439.7" stroke="#222" stroke-width="1.3"/>
<line x1="287.3" y1="439.7" x2="292.9" y2="439.7" stroke="#222" stroke-width="1.3"/>
<rect x="280.4" y="447.6" width="19.2" height="61.8" fill="#cbcbcb" stroke="#1a1a1a" stroke-width="1.3"/>
<line x1="330.0" y1="394.0" x2="330.0" y2="390.6" stroke="#222" stroke-width="1.3"/>
<line x1="327.2" y1="390.6" x2="332.8" y2="390.6" stroke="#222" stroke-width="1.3"/>
<rect x="319.8" y="394.0" width="20.4" height="115.4" fill="#050505"/>
<line x1="350.3" y1="397.2" x2="350.3" y2="394.4" stroke="#222" stroke-width="1.3"/>
<line x1="347.5" y1="394.4" x2="353.1" y2="394.4" stroke="#222" stroke-width="1.3"/>
<rect x="340.6" y="397.8" width="19.2" height="111.6" fill="#cbcbcb" stroke="#1a1a1a" stroke-width="1.3"/>
<rect x="249.9" y="354.8" width="120.79999999999998" height="154.59999999999997" fill="none" stroke="#3a3a3a" stroke-width="1.5"/>
<line x1="247.5" y1="509.4" x2="249.9" y2="509.4" stroke="#444" stroke-width="1.2"/>
<text transform="translate(240.7,513.6) scale(0.87,1)" font-size="15" font-weight="normal" text-anchor="end" fill="#222" stroke="#222" stroke-width="0.35" >0</text>
<line x1="247.5" y1="483.6" x2="249.9" y2="483.6" stroke="#444" stroke-width="1.2"/>
<text transform="translate(240.7,487.8) scale(0.87,1)" font-size="15" font-weight="normal" text-anchor="end" fill="#222" stroke="#222" stroke-width="0.35" >20</text>
<line x1="247.5" y1="457.9" x2="249.9" y2="457.9" stroke="#444" stroke-width="1.2"/>
<text transform="translate(240.7,462.1) scale(0.87,1)" font-size="15" font-weight="normal" text-anchor="end" fill="#222" stroke="#222" stroke-width="0.35" >40</text>
<line x1="247.5" y1="432.1" x2="249.9" y2="432.1" stroke="#444" stroke-width="1.2"/>
<text transform="translate(240.7,436.3) scale(0.87,1)" font-size="15" font-weight="normal" text-anchor="end" fill="#222" stroke="#222" stroke-width="0.35" >60</text>
<line x1="247.5" y1="406.3" x2="249.9" y2="406.3" stroke="#444" stroke-width="1.2"/>
<text transform="translate(240.7,410.5) scale(0.87,1)" font-size="15" font-weight="normal" text-anchor="end" fill="#222" stroke="#222" stroke-width="0.35" >80</text>
<line x1="247.5" y1="380.6" x2="249.9" y2="380.6" stroke="#444" stroke-width="1.2"/>
<text transform="translate(240.7,384.8) scale(0.87,1)" font-size="15" font-weight="normal" text-anchor="end" fill="#222" stroke="#222" stroke-width="0.35" >100</text>
<line x1="247.5" y1="354.8" x2="249.9" y2="354.8" stroke="#444" stroke-width="1.2"/>
<text transform="translate(240.7,359.0) scale(0.87,1)" font-size="15" font-weight="normal" text-anchor="end" fill="#222" stroke="#222" stroke-width="0.35" >120</text>
<path d="M269.6,371.5 L269.6,365.7 L349.8,365.7 L349.8,371.5 M289.8,365.7 L289.8,384.3" fill="none" stroke="#222" stroke-width="1.65"/>
<text x="279.5" y="371.7" font-size="19.5" font-weight="normal" text-anchor="middle" fill="#111" stroke="#111" stroke-width="0.45" letter-spacing="0.4">**</text>
<text x="319.5" y="371.7" font-size="19.5" font-weight="normal" text-anchor="middle" fill="#111" stroke="#111" stroke-width="0.45" letter-spacing="0.4">**</text>
<line x1="107.1" y1="572.8" x2="107.1" y2="562.2" stroke="#222" stroke-width="1.3"/>
<line x1="104.3" y1="562.2" x2="109.9" y2="562.2" stroke="#222" stroke-width="1.3"/>
<rect x="96.9" y="572.8" width="20.4" height="109.9" fill="#050505"/>
<line x1="127.4" y1="631.7" x2="127.4" y2="623.3" stroke="#222" stroke-width="1.3"/>
<line x1="124.6" y1="623.3" x2="130.2" y2="623.3" stroke="#222" stroke-width="1.3"/>
<rect x="117.7" y="632.3" width="19.3" height="50.4" fill="#cbcbcb" stroke="#1a1a1a" stroke-width="1.3"/>
<line x1="167.8" y1="586.0" x2="167.8" y2="571.0" stroke="#222" stroke-width="1.3"/>
<line x1="164.9" y1="571.0" x2="170.6" y2="571.0" stroke="#222" stroke-width="1.3"/>
<rect x="157.6" y="586.0" width="20.3" height="96.7" fill="#050505"/>
<line x1="188.2" y1="571.4" x2="188.2" y2="564.8" stroke="#222" stroke-width="1.3"/>
<line x1="185.3" y1="564.8" x2="191.0" y2="564.8" stroke="#222" stroke-width="1.3"/>
<rect x="178.3" y="572.0" width="19.5" height="110.7" fill="#cbcbcb" stroke="#1a1a1a" stroke-width="1.3"/>
<rect x="86.9" y="529.8" width="120.6" height="152.9000000000001" fill="none" stroke="#3a3a3a" stroke-width="1.5"/>
<line x1="84.5" y1="682.7" x2="86.9" y2="682.7" stroke="#444" stroke-width="1.2"/>
<text transform="translate(78.5,686.9) scale(0.87,1)" font-size="15" font-weight="normal" text-anchor="end" fill="#222" stroke="#222" stroke-width="0.35" >0</text>
<line x1="84.5" y1="657.2" x2="86.9" y2="657.2" stroke="#444" stroke-width="1.2"/>
<text transform="translate(78.5,661.4) scale(0.87,1)" font-size="15" font-weight="normal" text-anchor="end" fill="#222" stroke="#222" stroke-width="0.35" >10</text>
<line x1="84.5" y1="631.7" x2="86.9" y2="631.7" stroke="#444" stroke-width="1.2"/>
<text transform="translate(78.5,635.9) scale(0.87,1)" font-size="15" font-weight="normal" text-anchor="end" fill="#222" stroke="#222" stroke-width="0.35" >20</text>
<line x1="84.5" y1="606.2" x2="86.9" y2="606.2" stroke="#444" stroke-width="1.2"/>
<text transform="translate(78.5,610.5) scale(0.87,1)" font-size="15" font-weight="normal" text-anchor="end" fill="#222" stroke="#222" stroke-width="0.35" >30</text>
<line x1="84.5" y1="580.8" x2="86.9" y2="580.8" stroke="#444" stroke-width="1.2"/>
<text transform="translate(78.5,585.0) scale(0.87,1)" font-size="15" font-weight="normal" text-anchor="end" fill="#222" stroke="#222" stroke-width="0.35" >40</text>
<line x1="84.5" y1="555.3" x2="86.9" y2="555.3" stroke="#444" stroke-width="1.2"/>
<text transform="translate(78.5,559.5) scale(0.87,1)" font-size="15" font-weight="normal" text-anchor="end" fill="#222" stroke="#222" stroke-width="0.35" >50</text>
<line x1="84.5" y1="529.8" x2="86.9" y2="529.8" stroke="#444" stroke-width="1.2"/>
<text transform="translate(78.5,534.0) scale(0.87,1)" font-size="15" font-weight="normal" text-anchor="end" fill="#222" stroke="#222" stroke-width="0.35" >60</text>
<path d="M107.6,546.5 L107.6,542 L188.5,542 L188.5,546.5 M127.7,542 L127.7,560" fill="none" stroke="#222" stroke-width="1.65"/>
<text x="117.6" y="548.0" font-size="19.5" font-weight="normal" text-anchor="middle" fill="#111" stroke="#111" stroke-width="0.45" >*</text>
<text x="158.7" y="548.0" font-size="19.5" font-weight="normal" text-anchor="middle" fill="#111" stroke="#111" stroke-width="0.45" letter-spacing="0.4">**</text>
<line x1="269.8" y1="563.3" x2="269.8" y2="560.9" stroke="#222" stroke-width="1.3"/>
<line x1="267.0" y1="560.9" x2="272.6" y2="560.9" stroke="#222" stroke-width="1.3"/>
<rect x="259.6" y="563.3" width="20.4" height="119.4" fill="#050505"/>
<line x1="290.1" y1="598.9" x2="290.1" y2="590.0" stroke="#222" stroke-width="1.3"/>
<line x1="287.3" y1="590.0" x2="292.9" y2="590.0" stroke="#222" stroke-width="1.3"/>
<rect x="280.4" y="599.5" width="19.2" height="83.2" fill="#cbcbcb" stroke="#1a1a1a" stroke-width="1.3"/>
<line x1="330.0" y1="582.7" x2="330.0" y2="568.6" stroke="#222" stroke-width="1.3"/>
<line x1="327.2" y1="568.6" x2="332.8" y2="568.6" stroke="#222" stroke-width="1.3"/>
<rect x="319.8" y="582.7" width="20.4" height="100.0" fill="#050505"/>
<line x1="350.3" y1="570.6" x2="350.3" y2="568.6" stroke="#222" stroke-width="1.3"/>
<line x1="347.5" y1="568.6" x2="353.1" y2="568.6" stroke="#222" stroke-width="1.3"/>
<rect x="340.6" y="571.2" width="19.2" height="111.5" fill="#cbcbcb" stroke="#1a1a1a" stroke-width="1.3"/>
<rect x="249.9" y="529.8" width="120.79999999999998" height="152.9000000000001" fill="none" stroke="#3a3a3a" stroke-width="1.5"/>
<line x1="247.5" y1="682.7" x2="249.9" y2="682.7" stroke="#444" stroke-width="1.2"/>
<text transform="translate(240.7,686.9) scale(0.87,1)" font-size="15" font-weight="normal" text-anchor="end" fill="#222" stroke="#222" stroke-width="0.35" >0</text>
<line x1="247.5" y1="657.2" x2="249.9" y2="657.2" stroke="#444" stroke-width="1.2"/>
<text transform="translate(240.7,661.4) scale(0.87,1)" font-size="15" font-weight="normal" text-anchor="end" fill="#222" stroke="#222" stroke-width="0.35" >20</text>
<line x1="247.5" y1="631.7" x2="249.9" y2="631.7" stroke="#444" stroke-width="1.2"/>
<text transform="translate(240.7,635.9) scale(0.87,1)" font-size="15" font-weight="normal" text-anchor="end" fill="#222" stroke="#222" stroke-width="0.35" >40</text>
<line x1="247.5" y1="606.2" x2="249.9" y2="606.2" stroke="#444" stroke-width="1.2"/>
<text transform="translate(240.7,610.5) scale(0.87,1)" font-size="15" font-weight="normal" text-anchor="end" fill="#222" stroke="#222" stroke-width="0.35" >60</text>
<line x1="247.5" y1="580.8" x2="249.9" y2="580.8" stroke="#444" stroke-width="1.2"/>
<text transform="translate(240.7,585.0) scale(0.87,1)" font-size="15" font-weight="normal" text-anchor="end" fill="#222" stroke="#222" stroke-width="0.35" >80</text>
<line x1="247.5" y1="555.3" x2="249.9" y2="555.3" stroke="#444" stroke-width="1.2"/>
<text transform="translate(240.7,559.5) scale(0.87,1)" font-size="15" font-weight="normal" text-anchor="end" fill="#222" stroke="#222" stroke-width="0.35" >100</text>
<line x1="247.5" y1="529.8" x2="249.9" y2="529.8" stroke="#444" stroke-width="1.2"/>
<text transform="translate(240.7,534.0) scale(0.87,1)" font-size="15" font-weight="normal" text-anchor="end" fill="#222" stroke="#222" stroke-width="0.35" >120</text>
<path d="M269.6,546.3 L269.6,541.3 L350,541.3 L350,546.3 M289.8,541.3 L289.8,559.7" fill="none" stroke="#222" stroke-width="1.65"/>
<text x="279.5" y="547.3" font-size="19.5" font-weight="normal" text-anchor="middle" fill="#111" stroke="#111" stroke-width="0.45" >*</text>
<text x="319.9" y="547.3" font-size="19.5" font-weight="normal" text-anchor="middle" fill="#111" stroke="#111" stroke-width="0.45" >*</text>
<line x1="107.1" y1="773.3" x2="107.1" y2="766.0" stroke="#222" stroke-width="1.3"/>
<line x1="104.3" y1="766.0" x2="109.9" y2="766.0" stroke="#222" stroke-width="1.3"/>
<rect x="96.9" y="773.3" width="20.4" height="82.9" fill="#050505"/>
<line x1="127.4" y1="787.9" x2="127.4" y2="783.9" stroke="#222" stroke-width="1.3"/>
<line x1="124.6" y1="783.9" x2="130.2" y2="783.9" stroke="#222" stroke-width="1.3"/>
<rect x="117.7" y="788.5" width="19.3" height="67.7" fill="#cbcbcb" stroke="#1a1a1a" stroke-width="1.3"/>
<line x1="167.8" y1="775.1" x2="167.8" y2="768.6" stroke="#222" stroke-width="1.3"/>
<line x1="164.9" y1="768.6" x2="170.6" y2="768.6" stroke="#222" stroke-width="1.3"/>
<rect x="157.6" y="775.1" width="20.3" height="81.1" fill="#050505"/>
<line x1="188.2" y1="765.6" x2="188.2" y2="759.4" stroke="#222" stroke-width="1.3"/>
<line x1="185.3" y1="759.4" x2="191.0" y2="759.4" stroke="#222" stroke-width="1.3"/>
<rect x="178.3" y="766.2" width="19.5" height="90.0" fill="#cbcbcb" stroke="#1a1a1a" stroke-width="1.3"/>
<rect x="86.9" y="702.8" width="120.6" height="153.4000000000001" fill="none" stroke="#3a3a3a" stroke-width="1.5"/>
<line x1="84.5" y1="856.2" x2="86.9" y2="856.2" stroke="#444" stroke-width="1.2"/>
<text transform="translate(78.5,860.4) scale(0.87,1)" font-size="15" font-weight="normal" text-anchor="end" fill="#222" stroke="#222" stroke-width="0.35" >0</text>
<line x1="84.5" y1="830.6" x2="86.9" y2="830.6" stroke="#444" stroke-width="1.2"/>
<text transform="translate(78.5,834.8) scale(0.87,1)" font-size="15" font-weight="normal" text-anchor="end" fill="#222" stroke="#222" stroke-width="0.35" >10</text>
<line x1="84.5" y1="805.1" x2="86.9" y2="805.1" stroke="#444" stroke-width="1.2"/>
<text transform="translate(78.5,809.3) scale(0.87,1)" font-size="15" font-weight="normal" text-anchor="end" fill="#222" stroke="#222" stroke-width="0.35" >20</text>
<line x1="84.5" y1="779.5" x2="86.9" y2="779.5" stroke="#444" stroke-width="1.2"/>
<text transform="translate(78.5,783.7) scale(0.87,1)" font-size="15" font-weight="normal" text-anchor="end" fill="#222" stroke="#222" stroke-width="0.35" >30</text>
<line x1="84.5" y1="753.9" x2="86.9" y2="753.9" stroke="#444" stroke-width="1.2"/>
<text transform="translate(78.5,758.1) scale(0.87,1)" font-size="15" font-weight="normal" text-anchor="end" fill="#222" stroke="#222" stroke-width="0.35" >40</text>
<line x1="84.5" y1="728.4" x2="86.9" y2="728.4" stroke="#444" stroke-width="1.2"/>
<text transform="translate(78.5,732.6) scale(0.87,1)" font-size="15" font-weight="normal" text-anchor="end" fill="#222" stroke="#222" stroke-width="0.35" >50</text>
<line x1="84.5" y1="702.8" x2="86.9" y2="702.8" stroke="#444" stroke-width="1.2"/>
<text transform="translate(78.5,707.0) scale(0.87,1)" font-size="15" font-weight="normal" text-anchor="end" fill="#222" stroke="#222" stroke-width="0.35" >60</text>
<path d="M107.6,736.4 L107.6,732 L188.5,732 L188.5,736.4 M127.7,732 L127.7,750.3" fill="none" stroke="#222" stroke-width="1.65"/>
<text x="117.8" y="738.0" font-size="19.5" font-weight="normal" text-anchor="middle" fill="#111" stroke="#111" stroke-width="0.45" >*</text>
<text x="158" y="738.0" font-size="19.5" font-weight="normal" text-anchor="middle" fill="#111" stroke="#111" stroke-width="0.45" >*</text>
<line x1="269.8" y1="754.6" x2="269.8" y2="746.5" stroke="#222" stroke-width="1.3"/>
<line x1="267.0" y1="746.5" x2="272.6" y2="746.5" stroke="#222" stroke-width="1.3"/>
<rect x="259.6" y="754.6" width="20.4" height="101.6" fill="#050505"/>
<line x1="290.1" y1="772.8" x2="290.1" y2="765.5" stroke="#222" stroke-width="1.3"/>
<line x1="287.3" y1="765.5" x2="292.9" y2="765.5" stroke="#222" stroke-width="1.3"/>
<rect x="280.4" y="773.4" width="19.2" height="82.8" fill="#cbcbcb" stroke="#1a1a1a" stroke-width="1.3"/>
<line x1="330.0" y1="756.6" x2="330.0" y2="744.5" stroke="#222" stroke-width="1.3"/>
<line x1="327.2" y1="744.5" x2="332.8" y2="744.5" stroke="#222" stroke-width="1.3"/>
<rect x="319.8" y="756.6" width="20.4" height="99.6" fill="#050505"/>
<line x1="350.3" y1="745.7" x2="350.3" y2="743.7" stroke="#222" stroke-width="1.3"/>
<line x1="347.5" y1="743.7" x2="353.1" y2="743.7" stroke="#222" stroke-width="1.3"/>
<rect x="340.6" y="746.3" width="19.2" height="109.9" fill="#cbcbcb" stroke="#1a1a1a" stroke-width="1.3"/>
<rect x="249.9" y="702.8" width="120.79999999999998" height="153.4000000000001" fill="none" stroke="#3a3a3a" stroke-width="1.5"/>
<line x1="247.5" y1="856.2" x2="249.9" y2="856.2" stroke="#444" stroke-width="1.2"/>
<text transform="translate(240.7,860.4) scale(0.87,1)" font-size="15" font-weight="normal" text-anchor="end" fill="#222" stroke="#222" stroke-width="0.35" >0</text>
<line x1="247.5" y1="830.6" x2="249.9" y2="830.6" stroke="#444" stroke-width="1.2"/>
<text transform="translate(240.7,834.8) scale(0.87,1)" font-size="15" font-weight="normal" text-anchor="end" fill="#222" stroke="#222" stroke-width="0.35" >20</text>
<line x1="247.5" y1="805.1" x2="249.9" y2="805.1" stroke="#444" stroke-width="1.2"/>
<text transform="translate(240.7,809.3) scale(0.87,1)" font-size="15" font-weight="normal" text-anchor="end" fill="#222" stroke="#222" stroke-width="0.35" >40</text>
<line x1="247.5" y1="779.5" x2="249.9" y2="779.5" stroke="#444" stroke-width="1.2"/>
<text transform="translate(240.7,783.7) scale(0.87,1)" font-size="15" font-weight="normal" text-anchor="end" fill="#222" stroke="#222" stroke-width="0.35" >60</text>
<line x1="247.5" y1="753.9" x2="249.9" y2="753.9" stroke="#444" stroke-width="1.2"/>
<text transform="translate(240.7,758.1) scale(0.87,1)" font-size="15" font-weight="normal" text-anchor="end" fill="#222" stroke="#222" stroke-width="0.35" >80</text>
<line x1="247.5" y1="728.4" x2="249.9" y2="728.4" stroke="#444" stroke-width="1.2"/>
<text transform="translate(240.7,732.6) scale(0.87,1)" font-size="15" font-weight="normal" text-anchor="end" fill="#222" stroke="#222" stroke-width="0.35" >100</text>
<line x1="247.5" y1="702.8" x2="249.9" y2="702.8" stroke="#444" stroke-width="1.2"/>
<text transform="translate(240.7,707.0) scale(0.87,1)" font-size="15" font-weight="normal" text-anchor="end" fill="#222" stroke="#222" stroke-width="0.35" >120</text>
<path d="M289.2,750.6 L289.2,731.6 L350,731.6 L350,736.4" fill="none" stroke="#222" stroke-width="1.65"/>
<text x="319.9" y="737.6" font-size="19.5" font-weight="normal" text-anchor="middle" fill="#111" stroke="#111" stroke-width="0.45" >*</text>
<text x="373" y="437.4" font-size="22" font-weight="bold" text-anchor="start" fill="#111" stroke="#111" stroke-width="0.2" >1:3</text>
<text x="373" y="611.6" font-size="22" font-weight="bold" text-anchor="start" fill="#111" stroke="#111" stroke-width="0.2" >1:6</text>
<text x="373" y="785" font-size="22" font-weight="bold" text-anchor="start" fill="#111" stroke="#111" stroke-width="0.2" >1:10</text>
<text transform="translate(53.8,432) rotate(-90)" font-size="19.15" text-anchor="middle" fill="#111" stroke="#111" stroke-width="0.3">% Proliferation</text>
<text transform="translate(53.8,607) rotate(-90)" font-size="19.15" text-anchor="middle" fill="#111" stroke="#111" stroke-width="0.3">% Proliferation</text>
<text transform="translate(53.8,780) rotate(-90)" font-size="19.15" text-anchor="middle" fill="#111" stroke="#111" stroke-width="0.3">% Proliferation</text>
<text x="118.8" y="878" font-size="20" font-weight="normal" text-anchor="middle" fill="#111" stroke="#111" stroke-width="0.35" >WT</text>
<line x1="148.2" y1="856" x2="148.2" y2="879" stroke="#333" stroke-width="1.3"/>
<text x="155.6" y="878" font-size="19.4" fill="#111" stroke="#111" stroke-width="0.3">Stat6<tspan dx="1" dy="-6.5" font-size="12.5" fill="#555" stroke="none">−/−</tspan></text>
<text x="280.0" y="878" font-size="20" font-weight="normal" text-anchor="middle" fill="#111" stroke="#111" stroke-width="0.35" >WT</text>
<line x1="309.4" y1="856" x2="309.4" y2="879" stroke="#333" stroke-width="1.3"/>
<text x="316.79999999999995" y="878" font-size="19.4" fill="#111" stroke="#111" stroke-width="0.3">Stat6<tspan dx="1" dy="-6.5" font-size="12.5" fill="#555" stroke="none">−/−</tspan></text>
</svg>
</body></html>
